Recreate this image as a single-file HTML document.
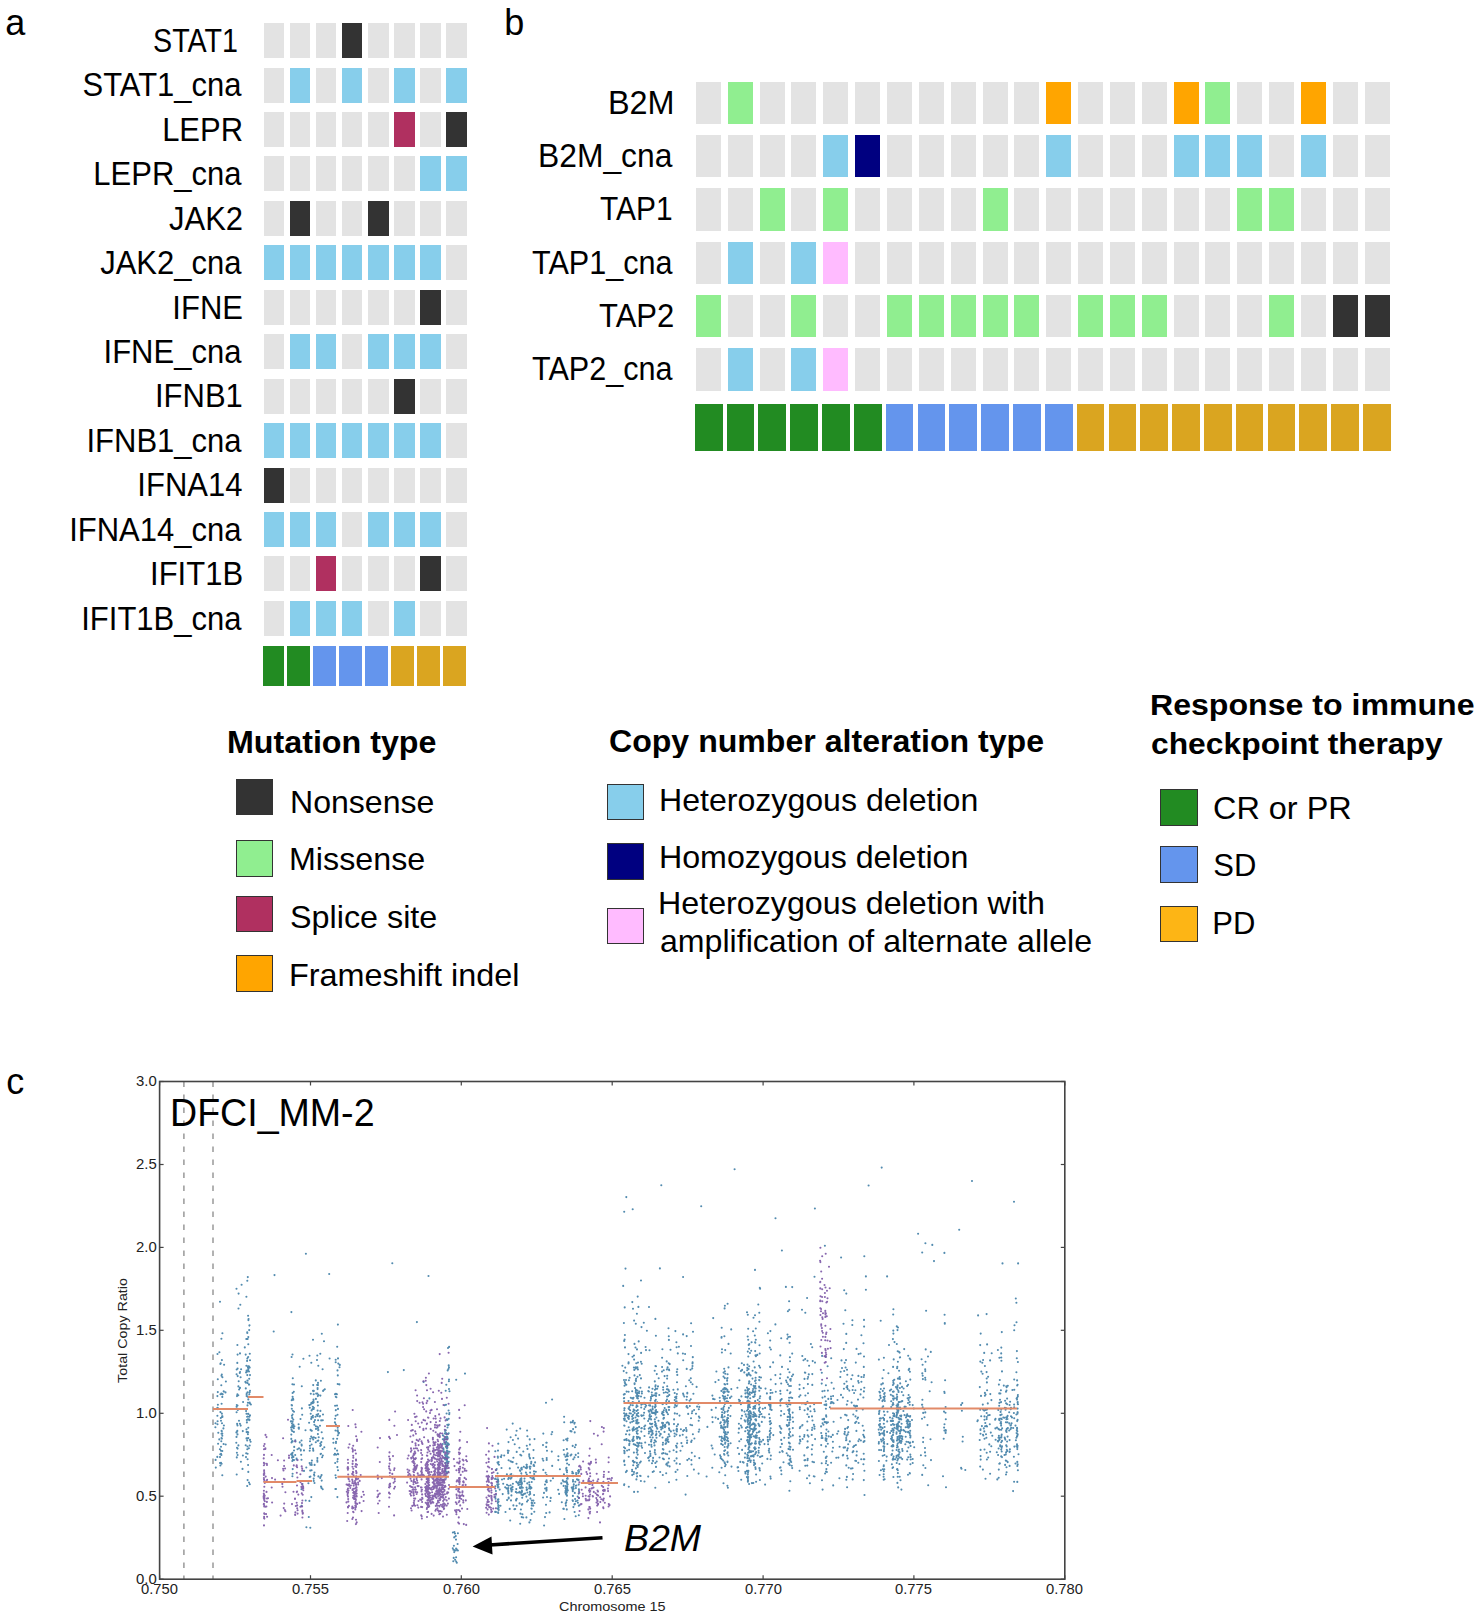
<!DOCTYPE html>
<html><head><meta charset="utf-8"><style>
html,body{margin:0;padding:0;background:#fff;width:1481px;height:1614px;overflow:hidden}
#root{position:relative;width:1481px;height:1614px;background:#fff}
#root div{position:absolute}
#root span{position:absolute;white-space:pre;line-height:1;font-family:'Liberation Sans', sans-serif;transform-origin:0 0}
</style></head><body><div id="root">
<div style="left:263.7px;top:23.0px;width:20.6px;height:35.0px;background:#e3e3e3;"></div>
<div style="left:289.8px;top:23.0px;width:20.6px;height:35.0px;background:#e3e3e3;"></div>
<div style="left:315.8px;top:23.0px;width:20.6px;height:35.0px;background:#e3e3e3;"></div>
<div style="left:341.9px;top:23.0px;width:20.6px;height:35.0px;background:#333333;"></div>
<div style="left:368.0px;top:23.0px;width:20.6px;height:35.0px;background:#e3e3e3;"></div>
<div style="left:394.0px;top:23.0px;width:20.6px;height:35.0px;background:#e3e3e3;"></div>
<div style="left:420.1px;top:23.0px;width:20.6px;height:35.0px;background:#e3e3e3;"></div>
<div style="left:446.2px;top:23.0px;width:20.6px;height:35.0px;background:#e3e3e3;"></div>
<div style="left:263.7px;top:67.5px;width:20.6px;height:35.0px;background:#e3e3e3;"></div>
<div style="left:289.8px;top:67.5px;width:20.6px;height:35.0px;background:#87ceeb;"></div>
<div style="left:315.8px;top:67.5px;width:20.6px;height:35.0px;background:#e3e3e3;"></div>
<div style="left:341.9px;top:67.5px;width:20.6px;height:35.0px;background:#87ceeb;"></div>
<div style="left:368.0px;top:67.5px;width:20.6px;height:35.0px;background:#e3e3e3;"></div>
<div style="left:394.0px;top:67.5px;width:20.6px;height:35.0px;background:#87ceeb;"></div>
<div style="left:420.1px;top:67.5px;width:20.6px;height:35.0px;background:#e3e3e3;"></div>
<div style="left:446.2px;top:67.5px;width:20.6px;height:35.0px;background:#87ceeb;"></div>
<div style="left:263.7px;top:111.9px;width:20.6px;height:35.0px;background:#e3e3e3;"></div>
<div style="left:289.8px;top:111.9px;width:20.6px;height:35.0px;background:#e3e3e3;"></div>
<div style="left:315.8px;top:111.9px;width:20.6px;height:35.0px;background:#e3e3e3;"></div>
<div style="left:341.9px;top:111.9px;width:20.6px;height:35.0px;background:#e3e3e3;"></div>
<div style="left:368.0px;top:111.9px;width:20.6px;height:35.0px;background:#e3e3e3;"></div>
<div style="left:394.0px;top:111.9px;width:20.6px;height:35.0px;background:#b03060;"></div>
<div style="left:420.1px;top:111.9px;width:20.6px;height:35.0px;background:#e3e3e3;"></div>
<div style="left:446.2px;top:111.9px;width:20.6px;height:35.0px;background:#333333;"></div>
<div style="left:263.7px;top:156.4px;width:20.6px;height:35.0px;background:#e3e3e3;"></div>
<div style="left:289.8px;top:156.4px;width:20.6px;height:35.0px;background:#e3e3e3;"></div>
<div style="left:315.8px;top:156.4px;width:20.6px;height:35.0px;background:#e3e3e3;"></div>
<div style="left:341.9px;top:156.4px;width:20.6px;height:35.0px;background:#e3e3e3;"></div>
<div style="left:368.0px;top:156.4px;width:20.6px;height:35.0px;background:#e3e3e3;"></div>
<div style="left:394.0px;top:156.4px;width:20.6px;height:35.0px;background:#e3e3e3;"></div>
<div style="left:420.1px;top:156.4px;width:20.6px;height:35.0px;background:#87ceeb;"></div>
<div style="left:446.2px;top:156.4px;width:20.6px;height:35.0px;background:#87ceeb;"></div>
<div style="left:263.7px;top:200.8px;width:20.6px;height:35.0px;background:#e3e3e3;"></div>
<div style="left:289.8px;top:200.8px;width:20.6px;height:35.0px;background:#333333;"></div>
<div style="left:315.8px;top:200.8px;width:20.6px;height:35.0px;background:#e3e3e3;"></div>
<div style="left:341.9px;top:200.8px;width:20.6px;height:35.0px;background:#e3e3e3;"></div>
<div style="left:368.0px;top:200.8px;width:20.6px;height:35.0px;background:#333333;"></div>
<div style="left:394.0px;top:200.8px;width:20.6px;height:35.0px;background:#e3e3e3;"></div>
<div style="left:420.1px;top:200.8px;width:20.6px;height:35.0px;background:#e3e3e3;"></div>
<div style="left:446.2px;top:200.8px;width:20.6px;height:35.0px;background:#e3e3e3;"></div>
<div style="left:263.7px;top:245.2px;width:20.6px;height:35.0px;background:#87ceeb;"></div>
<div style="left:289.8px;top:245.2px;width:20.6px;height:35.0px;background:#87ceeb;"></div>
<div style="left:315.8px;top:245.2px;width:20.6px;height:35.0px;background:#87ceeb;"></div>
<div style="left:341.9px;top:245.2px;width:20.6px;height:35.0px;background:#87ceeb;"></div>
<div style="left:368.0px;top:245.2px;width:20.6px;height:35.0px;background:#87ceeb;"></div>
<div style="left:394.0px;top:245.2px;width:20.6px;height:35.0px;background:#87ceeb;"></div>
<div style="left:420.1px;top:245.2px;width:20.6px;height:35.0px;background:#87ceeb;"></div>
<div style="left:446.2px;top:245.2px;width:20.6px;height:35.0px;background:#e3e3e3;"></div>
<div style="left:263.7px;top:289.7px;width:20.6px;height:35.0px;background:#e3e3e3;"></div>
<div style="left:289.8px;top:289.7px;width:20.6px;height:35.0px;background:#e3e3e3;"></div>
<div style="left:315.8px;top:289.7px;width:20.6px;height:35.0px;background:#e3e3e3;"></div>
<div style="left:341.9px;top:289.7px;width:20.6px;height:35.0px;background:#e3e3e3;"></div>
<div style="left:368.0px;top:289.7px;width:20.6px;height:35.0px;background:#e3e3e3;"></div>
<div style="left:394.0px;top:289.7px;width:20.6px;height:35.0px;background:#e3e3e3;"></div>
<div style="left:420.1px;top:289.7px;width:20.6px;height:35.0px;background:#333333;"></div>
<div style="left:446.2px;top:289.7px;width:20.6px;height:35.0px;background:#e3e3e3;"></div>
<div style="left:263.7px;top:334.2px;width:20.6px;height:35.0px;background:#e3e3e3;"></div>
<div style="left:289.8px;top:334.2px;width:20.6px;height:35.0px;background:#87ceeb;"></div>
<div style="left:315.8px;top:334.2px;width:20.6px;height:35.0px;background:#87ceeb;"></div>
<div style="left:341.9px;top:334.2px;width:20.6px;height:35.0px;background:#e3e3e3;"></div>
<div style="left:368.0px;top:334.2px;width:20.6px;height:35.0px;background:#87ceeb;"></div>
<div style="left:394.0px;top:334.2px;width:20.6px;height:35.0px;background:#87ceeb;"></div>
<div style="left:420.1px;top:334.2px;width:20.6px;height:35.0px;background:#87ceeb;"></div>
<div style="left:446.2px;top:334.2px;width:20.6px;height:35.0px;background:#e3e3e3;"></div>
<div style="left:263.7px;top:378.6px;width:20.6px;height:35.0px;background:#e3e3e3;"></div>
<div style="left:289.8px;top:378.6px;width:20.6px;height:35.0px;background:#e3e3e3;"></div>
<div style="left:315.8px;top:378.6px;width:20.6px;height:35.0px;background:#e3e3e3;"></div>
<div style="left:341.9px;top:378.6px;width:20.6px;height:35.0px;background:#e3e3e3;"></div>
<div style="left:368.0px;top:378.6px;width:20.6px;height:35.0px;background:#e3e3e3;"></div>
<div style="left:394.0px;top:378.6px;width:20.6px;height:35.0px;background:#333333;"></div>
<div style="left:420.1px;top:378.6px;width:20.6px;height:35.0px;background:#e3e3e3;"></div>
<div style="left:446.2px;top:378.6px;width:20.6px;height:35.0px;background:#e3e3e3;"></div>
<div style="left:263.7px;top:423.1px;width:20.6px;height:35.0px;background:#87ceeb;"></div>
<div style="left:289.8px;top:423.1px;width:20.6px;height:35.0px;background:#87ceeb;"></div>
<div style="left:315.8px;top:423.1px;width:20.6px;height:35.0px;background:#87ceeb;"></div>
<div style="left:341.9px;top:423.1px;width:20.6px;height:35.0px;background:#87ceeb;"></div>
<div style="left:368.0px;top:423.1px;width:20.6px;height:35.0px;background:#87ceeb;"></div>
<div style="left:394.0px;top:423.1px;width:20.6px;height:35.0px;background:#87ceeb;"></div>
<div style="left:420.1px;top:423.1px;width:20.6px;height:35.0px;background:#87ceeb;"></div>
<div style="left:446.2px;top:423.1px;width:20.6px;height:35.0px;background:#e3e3e3;"></div>
<div style="left:263.7px;top:467.5px;width:20.6px;height:35.0px;background:#333333;"></div>
<div style="left:289.8px;top:467.5px;width:20.6px;height:35.0px;background:#e3e3e3;"></div>
<div style="left:315.8px;top:467.5px;width:20.6px;height:35.0px;background:#e3e3e3;"></div>
<div style="left:341.9px;top:467.5px;width:20.6px;height:35.0px;background:#e3e3e3;"></div>
<div style="left:368.0px;top:467.5px;width:20.6px;height:35.0px;background:#e3e3e3;"></div>
<div style="left:394.0px;top:467.5px;width:20.6px;height:35.0px;background:#e3e3e3;"></div>
<div style="left:420.1px;top:467.5px;width:20.6px;height:35.0px;background:#e3e3e3;"></div>
<div style="left:446.2px;top:467.5px;width:20.6px;height:35.0px;background:#e3e3e3;"></div>
<div style="left:263.7px;top:512.0px;width:20.6px;height:35.0px;background:#87ceeb;"></div>
<div style="left:289.8px;top:512.0px;width:20.6px;height:35.0px;background:#87ceeb;"></div>
<div style="left:315.8px;top:512.0px;width:20.6px;height:35.0px;background:#87ceeb;"></div>
<div style="left:341.9px;top:512.0px;width:20.6px;height:35.0px;background:#e3e3e3;"></div>
<div style="left:368.0px;top:512.0px;width:20.6px;height:35.0px;background:#87ceeb;"></div>
<div style="left:394.0px;top:512.0px;width:20.6px;height:35.0px;background:#87ceeb;"></div>
<div style="left:420.1px;top:512.0px;width:20.6px;height:35.0px;background:#87ceeb;"></div>
<div style="left:446.2px;top:512.0px;width:20.6px;height:35.0px;background:#e3e3e3;"></div>
<div style="left:263.7px;top:556.4px;width:20.6px;height:35.0px;background:#e3e3e3;"></div>
<div style="left:289.8px;top:556.4px;width:20.6px;height:35.0px;background:#e3e3e3;"></div>
<div style="left:315.8px;top:556.4px;width:20.6px;height:35.0px;background:#b03060;"></div>
<div style="left:341.9px;top:556.4px;width:20.6px;height:35.0px;background:#e3e3e3;"></div>
<div style="left:368.0px;top:556.4px;width:20.6px;height:35.0px;background:#e3e3e3;"></div>
<div style="left:394.0px;top:556.4px;width:20.6px;height:35.0px;background:#e3e3e3;"></div>
<div style="left:420.1px;top:556.4px;width:20.6px;height:35.0px;background:#333333;"></div>
<div style="left:446.2px;top:556.4px;width:20.6px;height:35.0px;background:#e3e3e3;"></div>
<div style="left:263.7px;top:600.9px;width:20.6px;height:35.0px;background:#e3e3e3;"></div>
<div style="left:289.8px;top:600.9px;width:20.6px;height:35.0px;background:#87ceeb;"></div>
<div style="left:315.8px;top:600.9px;width:20.6px;height:35.0px;background:#87ceeb;"></div>
<div style="left:341.9px;top:600.9px;width:20.6px;height:35.0px;background:#87ceeb;"></div>
<div style="left:368.0px;top:600.9px;width:20.6px;height:35.0px;background:#e3e3e3;"></div>
<div style="left:394.0px;top:600.9px;width:20.6px;height:35.0px;background:#87ceeb;"></div>
<div style="left:420.1px;top:600.9px;width:20.6px;height:35.0px;background:#e3e3e3;"></div>
<div style="left:446.2px;top:600.9px;width:20.6px;height:35.0px;background:#e3e3e3;"></div>
<div style="left:263.2px;top:645.9px;width:20.7px;height:40.4px;background:#228b22;"></div>
<div style="left:286.8px;top:645.9px;width:23.0px;height:40.4px;background:#228b22;"></div>
<div style="left:312.9px;top:645.9px;width:22.8px;height:40.4px;background:#6495ed;"></div>
<div style="left:338.8px;top:645.9px;width:23.0px;height:40.4px;background:#6495ed;"></div>
<div style="left:364.9px;top:645.9px;width:23.0px;height:40.4px;background:#6495ed;"></div>
<div style="left:390.9px;top:645.9px;width:22.9px;height:40.4px;background:#daa520;"></div>
<div style="left:417.0px;top:645.9px;width:22.8px;height:40.4px;background:#daa520;"></div>
<div style="left:442.9px;top:645.9px;width:23.0px;height:40.4px;background:#daa520;"></div>
<div style="left:695.9px;top:81.6px;width:25.0px;height:42.4px;background:#e3e3e3;"></div>
<div style="left:727.7px;top:81.6px;width:25.0px;height:42.4px;background:#90ee90;"></div>
<div style="left:759.6px;top:81.6px;width:25.0px;height:42.4px;background:#e3e3e3;"></div>
<div style="left:791.4px;top:81.6px;width:25.0px;height:42.4px;background:#e3e3e3;"></div>
<div style="left:823.3px;top:81.6px;width:25.0px;height:42.4px;background:#e3e3e3;"></div>
<div style="left:855.1px;top:81.6px;width:25.0px;height:42.4px;background:#e3e3e3;"></div>
<div style="left:886.9px;top:81.6px;width:25.0px;height:42.4px;background:#e3e3e3;"></div>
<div style="left:918.8px;top:81.6px;width:25.0px;height:42.4px;background:#e3e3e3;"></div>
<div style="left:950.6px;top:81.6px;width:25.0px;height:42.4px;background:#e3e3e3;"></div>
<div style="left:982.5px;top:81.6px;width:25.0px;height:42.4px;background:#e3e3e3;"></div>
<div style="left:1014.3px;top:81.6px;width:25.0px;height:42.4px;background:#e3e3e3;"></div>
<div style="left:1046.1px;top:81.6px;width:25.0px;height:42.4px;background:#ffa500;"></div>
<div style="left:1078.0px;top:81.6px;width:25.0px;height:42.4px;background:#e3e3e3;"></div>
<div style="left:1109.8px;top:81.6px;width:25.0px;height:42.4px;background:#e3e3e3;"></div>
<div style="left:1141.7px;top:81.6px;width:25.0px;height:42.4px;background:#e3e3e3;"></div>
<div style="left:1173.5px;top:81.6px;width:25.0px;height:42.4px;background:#ffa500;"></div>
<div style="left:1205.3px;top:81.6px;width:25.0px;height:42.4px;background:#90ee90;"></div>
<div style="left:1237.2px;top:81.6px;width:25.0px;height:42.4px;background:#e3e3e3;"></div>
<div style="left:1269.0px;top:81.6px;width:25.0px;height:42.4px;background:#e3e3e3;"></div>
<div style="left:1300.9px;top:81.6px;width:25.0px;height:42.4px;background:#ffa500;"></div>
<div style="left:1332.7px;top:81.6px;width:25.0px;height:42.4px;background:#e3e3e3;"></div>
<div style="left:1364.5px;top:81.6px;width:25.0px;height:42.4px;background:#e3e3e3;"></div>
<div style="left:695.9px;top:134.9px;width:25.0px;height:42.4px;background:#e3e3e3;"></div>
<div style="left:727.7px;top:134.9px;width:25.0px;height:42.4px;background:#e3e3e3;"></div>
<div style="left:759.6px;top:134.9px;width:25.0px;height:42.4px;background:#e3e3e3;"></div>
<div style="left:791.4px;top:134.9px;width:25.0px;height:42.4px;background:#e3e3e3;"></div>
<div style="left:823.3px;top:134.9px;width:25.0px;height:42.4px;background:#87ceeb;"></div>
<div style="left:855.1px;top:134.9px;width:25.0px;height:42.4px;background:#000080;"></div>
<div style="left:886.9px;top:134.9px;width:25.0px;height:42.4px;background:#e3e3e3;"></div>
<div style="left:918.8px;top:134.9px;width:25.0px;height:42.4px;background:#e3e3e3;"></div>
<div style="left:950.6px;top:134.9px;width:25.0px;height:42.4px;background:#e3e3e3;"></div>
<div style="left:982.5px;top:134.9px;width:25.0px;height:42.4px;background:#e3e3e3;"></div>
<div style="left:1014.3px;top:134.9px;width:25.0px;height:42.4px;background:#e3e3e3;"></div>
<div style="left:1046.1px;top:134.9px;width:25.0px;height:42.4px;background:#87ceeb;"></div>
<div style="left:1078.0px;top:134.9px;width:25.0px;height:42.4px;background:#e3e3e3;"></div>
<div style="left:1109.8px;top:134.9px;width:25.0px;height:42.4px;background:#e3e3e3;"></div>
<div style="left:1141.7px;top:134.9px;width:25.0px;height:42.4px;background:#e3e3e3;"></div>
<div style="left:1173.5px;top:134.9px;width:25.0px;height:42.4px;background:#87ceeb;"></div>
<div style="left:1205.3px;top:134.9px;width:25.0px;height:42.4px;background:#87ceeb;"></div>
<div style="left:1237.2px;top:134.9px;width:25.0px;height:42.4px;background:#87ceeb;"></div>
<div style="left:1269.0px;top:134.9px;width:25.0px;height:42.4px;background:#e3e3e3;"></div>
<div style="left:1300.9px;top:134.9px;width:25.0px;height:42.4px;background:#87ceeb;"></div>
<div style="left:1332.7px;top:134.9px;width:25.0px;height:42.4px;background:#e3e3e3;"></div>
<div style="left:1364.5px;top:134.9px;width:25.0px;height:42.4px;background:#e3e3e3;"></div>
<div style="left:695.9px;top:188.3px;width:25.0px;height:42.4px;background:#e3e3e3;"></div>
<div style="left:727.7px;top:188.3px;width:25.0px;height:42.4px;background:#e3e3e3;"></div>
<div style="left:759.6px;top:188.3px;width:25.0px;height:42.4px;background:#90ee90;"></div>
<div style="left:791.4px;top:188.3px;width:25.0px;height:42.4px;background:#e3e3e3;"></div>
<div style="left:823.3px;top:188.3px;width:25.0px;height:42.4px;background:#90ee90;"></div>
<div style="left:855.1px;top:188.3px;width:25.0px;height:42.4px;background:#e3e3e3;"></div>
<div style="left:886.9px;top:188.3px;width:25.0px;height:42.4px;background:#e3e3e3;"></div>
<div style="left:918.8px;top:188.3px;width:25.0px;height:42.4px;background:#e3e3e3;"></div>
<div style="left:950.6px;top:188.3px;width:25.0px;height:42.4px;background:#e3e3e3;"></div>
<div style="left:982.5px;top:188.3px;width:25.0px;height:42.4px;background:#90ee90;"></div>
<div style="left:1014.3px;top:188.3px;width:25.0px;height:42.4px;background:#e3e3e3;"></div>
<div style="left:1046.1px;top:188.3px;width:25.0px;height:42.4px;background:#e3e3e3;"></div>
<div style="left:1078.0px;top:188.3px;width:25.0px;height:42.4px;background:#e3e3e3;"></div>
<div style="left:1109.8px;top:188.3px;width:25.0px;height:42.4px;background:#e3e3e3;"></div>
<div style="left:1141.7px;top:188.3px;width:25.0px;height:42.4px;background:#e3e3e3;"></div>
<div style="left:1173.5px;top:188.3px;width:25.0px;height:42.4px;background:#e3e3e3;"></div>
<div style="left:1205.3px;top:188.3px;width:25.0px;height:42.4px;background:#e3e3e3;"></div>
<div style="left:1237.2px;top:188.3px;width:25.0px;height:42.4px;background:#90ee90;"></div>
<div style="left:1269.0px;top:188.3px;width:25.0px;height:42.4px;background:#90ee90;"></div>
<div style="left:1300.9px;top:188.3px;width:25.0px;height:42.4px;background:#e3e3e3;"></div>
<div style="left:1332.7px;top:188.3px;width:25.0px;height:42.4px;background:#e3e3e3;"></div>
<div style="left:1364.5px;top:188.3px;width:25.0px;height:42.4px;background:#e3e3e3;"></div>
<div style="left:695.9px;top:241.6px;width:25.0px;height:42.4px;background:#e3e3e3;"></div>
<div style="left:727.7px;top:241.6px;width:25.0px;height:42.4px;background:#87ceeb;"></div>
<div style="left:759.6px;top:241.6px;width:25.0px;height:42.4px;background:#e3e3e3;"></div>
<div style="left:791.4px;top:241.6px;width:25.0px;height:42.4px;background:#87ceeb;"></div>
<div style="left:823.3px;top:241.6px;width:25.0px;height:42.4px;background:#ffbbff;"></div>
<div style="left:855.1px;top:241.6px;width:25.0px;height:42.4px;background:#e3e3e3;"></div>
<div style="left:886.9px;top:241.6px;width:25.0px;height:42.4px;background:#e3e3e3;"></div>
<div style="left:918.8px;top:241.6px;width:25.0px;height:42.4px;background:#e3e3e3;"></div>
<div style="left:950.6px;top:241.6px;width:25.0px;height:42.4px;background:#e3e3e3;"></div>
<div style="left:982.5px;top:241.6px;width:25.0px;height:42.4px;background:#e3e3e3;"></div>
<div style="left:1014.3px;top:241.6px;width:25.0px;height:42.4px;background:#e3e3e3;"></div>
<div style="left:1046.1px;top:241.6px;width:25.0px;height:42.4px;background:#e3e3e3;"></div>
<div style="left:1078.0px;top:241.6px;width:25.0px;height:42.4px;background:#e3e3e3;"></div>
<div style="left:1109.8px;top:241.6px;width:25.0px;height:42.4px;background:#e3e3e3;"></div>
<div style="left:1141.7px;top:241.6px;width:25.0px;height:42.4px;background:#e3e3e3;"></div>
<div style="left:1173.5px;top:241.6px;width:25.0px;height:42.4px;background:#e3e3e3;"></div>
<div style="left:1205.3px;top:241.6px;width:25.0px;height:42.4px;background:#e3e3e3;"></div>
<div style="left:1237.2px;top:241.6px;width:25.0px;height:42.4px;background:#e3e3e3;"></div>
<div style="left:1269.0px;top:241.6px;width:25.0px;height:42.4px;background:#e3e3e3;"></div>
<div style="left:1300.9px;top:241.6px;width:25.0px;height:42.4px;background:#e3e3e3;"></div>
<div style="left:1332.7px;top:241.6px;width:25.0px;height:42.4px;background:#e3e3e3;"></div>
<div style="left:1364.5px;top:241.6px;width:25.0px;height:42.4px;background:#e3e3e3;"></div>
<div style="left:695.9px;top:294.9px;width:25.0px;height:42.4px;background:#90ee90;"></div>
<div style="left:727.7px;top:294.9px;width:25.0px;height:42.4px;background:#e3e3e3;"></div>
<div style="left:759.6px;top:294.9px;width:25.0px;height:42.4px;background:#e3e3e3;"></div>
<div style="left:791.4px;top:294.9px;width:25.0px;height:42.4px;background:#90ee90;"></div>
<div style="left:823.3px;top:294.9px;width:25.0px;height:42.4px;background:#e3e3e3;"></div>
<div style="left:855.1px;top:294.9px;width:25.0px;height:42.4px;background:#e3e3e3;"></div>
<div style="left:886.9px;top:294.9px;width:25.0px;height:42.4px;background:#90ee90;"></div>
<div style="left:918.8px;top:294.9px;width:25.0px;height:42.4px;background:#90ee90;"></div>
<div style="left:950.6px;top:294.9px;width:25.0px;height:42.4px;background:#90ee90;"></div>
<div style="left:982.5px;top:294.9px;width:25.0px;height:42.4px;background:#90ee90;"></div>
<div style="left:1014.3px;top:294.9px;width:25.0px;height:42.4px;background:#90ee90;"></div>
<div style="left:1046.1px;top:294.9px;width:25.0px;height:42.4px;background:#e3e3e3;"></div>
<div style="left:1078.0px;top:294.9px;width:25.0px;height:42.4px;background:#90ee90;"></div>
<div style="left:1109.8px;top:294.9px;width:25.0px;height:42.4px;background:#90ee90;"></div>
<div style="left:1141.7px;top:294.9px;width:25.0px;height:42.4px;background:#90ee90;"></div>
<div style="left:1173.5px;top:294.9px;width:25.0px;height:42.4px;background:#e3e3e3;"></div>
<div style="left:1205.3px;top:294.9px;width:25.0px;height:42.4px;background:#e3e3e3;"></div>
<div style="left:1237.2px;top:294.9px;width:25.0px;height:42.4px;background:#e3e3e3;"></div>
<div style="left:1269.0px;top:294.9px;width:25.0px;height:42.4px;background:#90ee90;"></div>
<div style="left:1300.9px;top:294.9px;width:25.0px;height:42.4px;background:#e3e3e3;"></div>
<div style="left:1332.7px;top:294.9px;width:25.0px;height:42.4px;background:#333333;"></div>
<div style="left:1364.5px;top:294.9px;width:25.0px;height:42.4px;background:#333333;"></div>
<div style="left:695.9px;top:348.2px;width:25.0px;height:42.4px;background:#e3e3e3;"></div>
<div style="left:727.7px;top:348.2px;width:25.0px;height:42.4px;background:#87ceeb;"></div>
<div style="left:759.6px;top:348.2px;width:25.0px;height:42.4px;background:#e3e3e3;"></div>
<div style="left:791.4px;top:348.2px;width:25.0px;height:42.4px;background:#87ceeb;"></div>
<div style="left:823.3px;top:348.2px;width:25.0px;height:42.4px;background:#ffbbff;"></div>
<div style="left:855.1px;top:348.2px;width:25.0px;height:42.4px;background:#e3e3e3;"></div>
<div style="left:886.9px;top:348.2px;width:25.0px;height:42.4px;background:#e3e3e3;"></div>
<div style="left:918.8px;top:348.2px;width:25.0px;height:42.4px;background:#e3e3e3;"></div>
<div style="left:950.6px;top:348.2px;width:25.0px;height:42.4px;background:#e3e3e3;"></div>
<div style="left:982.5px;top:348.2px;width:25.0px;height:42.4px;background:#e3e3e3;"></div>
<div style="left:1014.3px;top:348.2px;width:25.0px;height:42.4px;background:#e3e3e3;"></div>
<div style="left:1046.1px;top:348.2px;width:25.0px;height:42.4px;background:#e3e3e3;"></div>
<div style="left:1078.0px;top:348.2px;width:25.0px;height:42.4px;background:#e3e3e3;"></div>
<div style="left:1109.8px;top:348.2px;width:25.0px;height:42.4px;background:#e3e3e3;"></div>
<div style="left:1141.7px;top:348.2px;width:25.0px;height:42.4px;background:#e3e3e3;"></div>
<div style="left:1173.5px;top:348.2px;width:25.0px;height:42.4px;background:#e3e3e3;"></div>
<div style="left:1205.3px;top:348.2px;width:25.0px;height:42.4px;background:#e3e3e3;"></div>
<div style="left:1237.2px;top:348.2px;width:25.0px;height:42.4px;background:#e3e3e3;"></div>
<div style="left:1269.0px;top:348.2px;width:25.0px;height:42.4px;background:#e3e3e3;"></div>
<div style="left:1300.9px;top:348.2px;width:25.0px;height:42.4px;background:#e3e3e3;"></div>
<div style="left:1332.7px;top:348.2px;width:25.0px;height:42.4px;background:#e3e3e3;"></div>
<div style="left:1364.5px;top:348.2px;width:25.0px;height:42.4px;background:#e3e3e3;"></div>
<div style="left:694.8px;top:404.0px;width:27.8px;height:47.0px;background:#228b22;"></div>
<div style="left:726.6px;top:404.0px;width:27.8px;height:47.0px;background:#228b22;"></div>
<div style="left:758.4px;top:404.0px;width:27.8px;height:47.0px;background:#228b22;"></div>
<div style="left:790.3px;top:404.0px;width:27.8px;height:47.0px;background:#228b22;"></div>
<div style="left:822.1px;top:404.0px;width:27.8px;height:47.0px;background:#228b22;"></div>
<div style="left:853.9px;top:404.0px;width:27.8px;height:47.0px;background:#228b22;"></div>
<div style="left:885.7px;top:404.0px;width:27.8px;height:47.0px;background:#6495ed;"></div>
<div style="left:917.5px;top:404.0px;width:27.8px;height:47.0px;background:#6495ed;"></div>
<div style="left:949.4px;top:404.0px;width:27.8px;height:47.0px;background:#6495ed;"></div>
<div style="left:981.2px;top:404.0px;width:27.8px;height:47.0px;background:#6495ed;"></div>
<div style="left:1013.0px;top:404.0px;width:27.8px;height:47.0px;background:#6495ed;"></div>
<div style="left:1044.8px;top:404.0px;width:27.8px;height:47.0px;background:#6495ed;"></div>
<div style="left:1076.6px;top:404.0px;width:27.8px;height:47.0px;background:#daa520;"></div>
<div style="left:1108.5px;top:404.0px;width:27.8px;height:47.0px;background:#daa520;"></div>
<div style="left:1140.3px;top:404.0px;width:27.8px;height:47.0px;background:#daa520;"></div>
<div style="left:1172.1px;top:404.0px;width:27.8px;height:47.0px;background:#daa520;"></div>
<div style="left:1203.9px;top:404.0px;width:27.8px;height:47.0px;background:#daa520;"></div>
<div style="left:1235.7px;top:404.0px;width:27.8px;height:47.0px;background:#daa520;"></div>
<div style="left:1267.6px;top:404.0px;width:27.8px;height:47.0px;background:#daa520;"></div>
<div style="left:1299.4px;top:404.0px;width:27.8px;height:47.0px;background:#daa520;"></div>
<div style="left:1331.2px;top:404.0px;width:27.8px;height:47.0px;background:#daa520;"></div>
<div style="left:1363.0px;top:404.0px;width:27.8px;height:47.0px;background:#daa520;"></div>
<div style="left:236.2px;top:778.8px;width:37.2px;height:36.6px;background:#333333;box-sizing:border-box;border:1.3px solid #333;"></div>
<div style="left:236.2px;top:840.2px;width:37.2px;height:36.6px;background:#90ee90;box-sizing:border-box;border:1.3px solid #333;"></div>
<div style="left:236.2px;top:895.5px;width:37.2px;height:36.6px;background:#b03060;box-sizing:border-box;border:1.3px solid #333;"></div>
<div style="left:236.2px;top:955.3px;width:37.2px;height:36.6px;background:#ffa500;box-sizing:border-box;border:1.3px solid #333;"></div>
<div style="left:607.4px;top:783.6px;width:36.8px;height:36.4px;background:#87ceeb;box-sizing:border-box;border:1.3px solid #333;"></div>
<div style="left:607.4px;top:843.4px;width:36.8px;height:36.4px;background:#000080;box-sizing:border-box;border:1.3px solid #333;"></div>
<div style="left:607.4px;top:908.0px;width:36.8px;height:36.4px;background:#ffbbff;box-sizing:border-box;border:1.3px solid #333;"></div>
<div style="left:1159.8px;top:789.4px;width:38.6px;height:36.8px;background:#228b22;box-sizing:border-box;border:1.3px solid #333;"></div>
<div style="left:1159.8px;top:846.0px;width:38.6px;height:37.0px;background:#6495ed;box-sizing:border-box;border:1.3px solid #333;"></div>
<div style="left:1160.4px;top:905.6px;width:37.4px;height:36.6px;background:#fdb515;box-sizing:border-box;border:1.3px solid #333;"></div>
<svg width="1481" height="1614" style="position:absolute;left:0;top:0">
<line x1="183.9" y1="1081.5" x2="183.9" y2="1579.2" stroke="#999" stroke-width="1.5" stroke-dasharray="5.5,7.5" stroke-dashoffset="0"/>
<line x1="213.0" y1="1081.5" x2="213.0" y2="1579.2" stroke="#999" stroke-width="1.5" stroke-dasharray="5.5,7.5" stroke-dashoffset="0"/>
<path d="M217.8 1409.2h0M222.3 1433.6h0M222.4 1333.2h0M217.4 1396.1h0M220.0 1457.1h0M221.3 1441.3h0M218.1 1443.8h0M221.6 1403.7h0M222.4 1416.2h0M220.7 1363.4h0M220.0 1463.0h0M221.3 1385.3h0M220.5 1394.2h0M221.9 1438.6h0M221.0 1462.8h0M215.0 1409.1h0M223.9 1425.5h0M217.8 1379.3h0M217.4 1415.8h0M222.3 1435.8h0M221.9 1360.1h0M217.3 1456.9h0M222.3 1396.9h0M215.5 1423.3h0M221.5 1375.8h0M222.4 1417.0h0M222.0 1423.3h0M223.4 1428.4h0M223.6 1444.0h0M221.3 1393.6h0M217.5 1424.2h0M217.4 1407.7h0M218.3 1432.7h0M221.6 1430.9h0M221.0 1453.8h0M217.7 1409.0h0M220.0 1301.8h0M217.9 1404.7h0M222.4 1377.3h0M221.4 1455.0h0M220.4 1412.0h0M221.0 1446.7h0M223.7 1391.4h0M221.6 1463.7h0M217.6 1421.2h0M219.4 1352.2h0M225.9 1381.5h0M215.4 1427.3h0M222.3 1394.3h0M219.9 1449.2h0M220.8 1418.0h0M220.2 1454.2h0M225.7 1444.5h0M222.7 1394.2h0M217.5 1354.0h0M221.0 1450.8h0M221.9 1413.8h0M221.8 1413.5h0M220.4 1363.9h0M215.6 1459.9h0M221.5 1433.8h0M218.2 1408.4h0M222.3 1475.2h0M221.8 1374.5h0M221.4 1338.7h0M222.1 1416.4h0M215.8 1467.6h0M221.5 1438.1h0M220.4 1465.5h0M219.3 1439.4h0M221.8 1431.3h0M222.3 1451.0h0M221.0 1420.8h0M224.1 1364.7h0M217.8 1392.1h0M250.0 1390.7h0M238.4 1445.4h0M245.8 1382.6h0M236.3 1442.8h0M247.9 1419.4h0M237.7 1376.1h0M247.2 1486.0h0M240.1 1372.0h0M248.3 1369.9h0M237.6 1455.0h0M237.3 1430.9h0M237.6 1448.6h0M246.2 1453.2h0M242.8 1431.1h0M240.0 1353.4h0M249.1 1384.6h0M245.8 1388.4h0M246.5 1429.4h0M236.8 1405.0h0M238.4 1386.4h0M237.6 1354.6h0M242.5 1468.9h0M249.7 1402.5h0M241.1 1369.3h0M247.6 1453.7h0M236.6 1406.8h0M237.5 1434.4h0M246.1 1411.1h0M249.0 1371.5h0M248.3 1344.3h0M246.5 1413.8h0M237.0 1447.7h0M248.9 1396.9h0M237.0 1396.1h0M247.9 1402.7h0M246.9 1422.4h0M248.3 1471.9h0M238.5 1308.5h0M245.4 1381.9h0M248.2 1368.9h0M247.1 1360.9h0M244.8 1347.4h0M247.2 1440.5h0M247.3 1375.1h0M249.7 1445.5h0M237.5 1405.5h0M248.9 1448.2h0M239.8 1372.9h0M239.1 1389.5h0M250.6 1441.7h0M249.8 1403.4h0M248.9 1384.6h0M240.6 1377.3h0M236.6 1412.2h0M249.2 1330.1h0M249.4 1325.6h0M247.3 1333.0h0M249.8 1353.7h0M248.3 1413.9h0M249.0 1482.5h0M246.8 1420.0h0M246.6 1394.2h0M236.5 1288.7h0M249.2 1378.8h0M246.1 1372.5h0M248.6 1319.0h0M249.5 1325.2h0M247.6 1338.9h0M247.5 1405.4h0M237.5 1425.5h0M247.8 1277.1h0M248.3 1337.1h0M247.3 1449.2h0M237.8 1410.0h0M245.7 1445.2h0M237.6 1368.6h0M248.0 1367.4h0M239.9 1423.7h0M247.4 1432.1h0M248.2 1432.2h0M250.9 1404.5h0M236.7 1369.5h0M247.5 1383.0h0M247.0 1438.4h0M247.6 1380.8h0M248.3 1366.3h0M246.4 1365.8h0M247.6 1480.1h0M249.1 1366.5h0M237.3 1362.9h0M237.0 1431.7h0M248.4 1320.1h0M236.7 1474.5h0M250.0 1415.4h0M242.9 1455.5h0M237.4 1394.4h0M247.3 1280.7h0M249.7 1392.3h0M249.3 1394.3h0M248.9 1419.2h0M245.7 1354.6h0M243.1 1402.0h0M246.6 1370.5h0M237.1 1423.9h0M250.0 1439.9h0M236.9 1452.8h0M247.0 1371.7h0M246.6 1432.1h0M248.1 1315.8h0M246.7 1393.2h0M250.0 1375.1h0M247.4 1380.5h0M237.0 1408.7h0M249.3 1420.1h0M240.9 1461.8h0M247.2 1332.2h0M247.6 1392.2h0M236.8 1457.4h0M246.4 1296.7h0M247.1 1416.7h0M248.3 1399.4h0M248.2 1357.0h0M247.5 1396.6h0M236.6 1374.2h0M249.5 1419.9h0M248.3 1427.7h0M240.7 1425.6h0M237.4 1345.0h0M236.4 1432.4h0M250.0 1360.3h0M247.8 1416.5h0M238.7 1381.2h0M247.6 1459.3h0M247.5 1446.5h0M246.3 1339.0h0M236.5 1436.9h0M249.3 1416.7h0M240.0 1387.9h0M238.3 1395.2h0M247.9 1434.2h0M246.0 1457.1h0M246.5 1438.4h0M239.0 1420.8h0M247.3 1358.5h0M248.3 1438.1h0M248.1 1465.0h0M249.8 1484.3h0M249.7 1367.6h0M246.6 1396.0h0M246.6 1371.6h0M292.6 1421.8h0M292.0 1405.4h0M292.2 1453.4h0M291.6 1357.0h0M293.4 1424.6h0M297.5 1449.2h0M290.9 1421.4h0M292.6 1441.2h0M291.1 1454.4h0M293.2 1426.3h0M293.9 1431.9h0M292.5 1354.5h0M292.4 1384.2h0M291.6 1405.0h0M293.3 1419.6h0M291.3 1434.6h0M294.0 1450.5h0M293.8 1428.2h0M292.6 1427.3h0M293.1 1460.1h0M298.9 1428.8h0M291.5 1442.5h0M292.8 1426.8h0M292.8 1410.8h0M292.0 1441.4h0M293.1 1398.5h0M299.7 1366.8h0M294.0 1384.5h0M299.8 1442.4h0M291.9 1421.3h0M292.2 1417.9h0M292.3 1461.0h0M292.2 1431.1h0M292.6 1473.8h0M292.6 1393.0h0M301.2 1454.8h0M292.3 1441.0h0M293.8 1391.8h0M298.6 1428.0h0M292.2 1399.3h0M300.8 1450.6h0M292.9 1459.9h0M291.9 1415.7h0M292.4 1476.3h0M292.4 1455.3h0M294.0 1460.1h0M292.2 1427.0h0M295.3 1440.2h0M293.3 1399.7h0M292.2 1425.8h0M292.6 1396.7h0M291.3 1438.9h0M292.6 1414.5h0M292.0 1457.7h0M295.2 1455.0h0M296.6 1459.5h0M291.9 1415.8h0M294.2 1446.9h0M292.2 1427.3h0M294.4 1426.3h0M293.4 1456.9h0M294.0 1411.7h0M291.7 1400.2h0M292.7 1469.1h0M298.6 1424.2h0M298.9 1427.6h0M291.9 1423.5h0M292.8 1378.2h0M293.0 1399.0h0M299.0 1448.2h0M300.5 1419.0h0M292.6 1441.4h0M291.5 1429.7h0M291.8 1408.7h0M292.3 1456.1h0M291.1 1427.6h0M296.6 1458.6h0M295.5 1441.5h0M300.7 1449.5h0M292.6 1452.7h0M301.6 1444.5h0M309.8 1407.7h0M305.5 1430.3h0M310.2 1470.6h0M309.7 1476.9h0M304.0 1470.9h0M309.6 1463.1h0M309.4 1500.9h0M311.6 1470.2h0M301.5 1459.8h0M310.3 1527.7h0M301.7 1445.6h0M301.5 1440.5h0M310.4 1476.6h0M301.9 1408.4h0M303.4 1358.8h0M301.8 1386.3h0M301.5 1505.9h0M308.8 1517.0h0M306.4 1527.2h0M308.4 1483.3h0M302.2 1414.8h0M301.5 1489.2h0M306.3 1467.5h0M309.5 1355.8h0M304.0 1450.4h0M302.5 1484.0h0M310.3 1464.7h0M309.7 1450.8h0M305.7 1500.5h0M310.8 1404.5h0M319.7 1416.4h0M317.6 1416.0h0M316.2 1393.6h0M310.6 1429.9h0M313.0 1339.8h0M309.3 1405.1h0M310.3 1438.8h0M317.8 1396.1h0M320.0 1425.7h0M320.4 1410.9h0M311.3 1403.1h0M318.0 1428.8h0M317.3 1460.2h0M315.5 1416.8h0M314.4 1424.7h0M322.8 1420.2h0M316.6 1414.8h0M313.3 1391.3h0M320.3 1353.7h0M309.9 1445.7h0M313.6 1402.5h0M314.1 1421.9h0M310.0 1441.2h0M324.3 1447.3h0M310.7 1413.8h0M312.6 1409.1h0M312.7 1401.8h0M322.6 1369.3h0M311.6 1410.4h0M313.5 1399.6h0M317.6 1410.6h0M317.4 1458.1h0M311.6 1444.5h0M313.8 1437.3h0M317.4 1393.5h0M315.9 1426.3h0M318.4 1395.0h0M323.6 1390.2h0M311.9 1460.6h0M313.0 1448.5h0M310.8 1393.8h0M317.3 1355.5h0M324.0 1341.2h0M313.7 1409.0h0M318.1 1420.2h0M311.8 1430.7h0M318.4 1430.0h0M318.0 1382.9h0M317.2 1384.9h0M317.9 1405.5h0M317.7 1402.1h0M317.4 1461.7h0M311.5 1430.7h0M313.2 1450.1h0M317.5 1426.8h0M311.2 1418.9h0M312.9 1417.4h0M317.6 1388.0h0M311.5 1417.0h0M313.2 1385.1h0M312.8 1403.3h0M315.9 1398.9h0M323.1 1390.9h0M322.1 1457.3h0M321.2 1420.4h0M313.5 1401.0h0M309.1 1422.8h0M318.4 1476.4h0M318.2 1414.0h0M318.7 1437.3h0M313.0 1390.8h0M311.2 1436.5h0M317.0 1360.0h0M317.6 1389.1h0M320.9 1380.8h0M313.7 1394.2h0M315.0 1420.1h0M311.3 1362.8h0M315.6 1438.0h0M322.8 1438.4h0M315.8 1380.4h0M320.3 1443.5h0M313.8 1390.9h0M318.0 1385.1h0M312.9 1415.7h0M316.0 1428.9h0M320.0 1416.1h0M324.8 1389.2h0M317.9 1434.1h0M317.5 1440.7h0M315.8 1442.2h0M318.2 1430.3h0M318.3 1365.8h0M322.6 1449.0h0M323.0 1414.5h0M318.2 1427.5h0M312.8 1406.7h0M320.4 1395.6h0M310.0 1448.2h0M318.3 1440.6h0M320.8 1476.6h0M322.7 1489.3h0M313.9 1407.9h0M313.3 1450.8h0M314.3 1475.6h0M311.7 1464.9h0M321.0 1486.6h0M313.7 1480.9h0M314.0 1474.6h0M321.7 1480.6h0M321.0 1453.8h0M320.3 1445.9h0M321.7 1432.2h0M314.6 1464.9h0M314.5 1483.0h0M312.3 1437.8h0M313.7 1478.6h0M313.2 1439.5h0M321.5 1488.0h0M311.3 1497.1h0M314.5 1472.5h0M320.2 1477.9h0M311.5 1463.0h0M321.4 1487.4h0M321.1 1445.0h0M321.6 1475.0h0M321.4 1442.1h0M322.8 1455.6h0M320.6 1454.1h0M337.2 1346.7h0M338.0 1358.4h0M335.1 1418.7h0M335.2 1394.1h0M335.9 1477.7h0M336.1 1454.8h0M335.9 1424.5h0M337.7 1459.1h0M335.0 1422.8h0M338.2 1454.3h0M337.5 1431.1h0M336.0 1489.0h0M337.8 1435.3h0M335.4 1489.0h0M335.9 1410.0h0M333.3 1438.8h0M338.6 1433.5h0M337.5 1370.4h0M334.9 1453.7h0M335.0 1394.2h0M337.7 1427.7h0M336.4 1397.2h0M335.9 1393.9h0M337.7 1384.0h0M334.2 1454.8h0M338.0 1470.2h0M335.3 1426.1h0M335.7 1415.8h0M335.2 1463.0h0M334.9 1422.4h0M338.3 1363.6h0M336.9 1394.3h0M335.8 1410.3h0M337.8 1375.4h0M337.8 1430.3h0M335.8 1396.7h0M335.1 1405.8h0M339.5 1367.2h0M338.0 1431.7h0M337.4 1461.6h0M337.5 1414.8h0M337.8 1453.7h0M337.9 1324.6h0M335.5 1475.3h0M337.1 1438.8h0M337.1 1450.6h0M335.5 1430.5h0M339.0 1432.9h0M336.0 1441.7h0M335.7 1359.7h0M338.0 1408.9h0M336.0 1443.0h0M335.0 1448.6h0M339.4 1384.4h0M339.8 1364.9h0M333.4 1442.7h0M337.4 1497.1h0M337.4 1467.1h0M337.0 1405.6h0M335.7 1362.2h0M445.3 1439.2h0M447.0 1459.9h0M447.5 1465.7h0M443.9 1451.2h0M446.8 1439.2h0M445.7 1439.3h0M447.0 1452.9h0M445.4 1471.4h0M447.4 1443.5h0M447.7 1438.3h0M443.3 1448.3h0M447.3 1443.4h0M445.7 1476.1h0M447.1 1461.5h0M445.8 1439.4h0M447.1 1438.9h0M446.9 1473.4h0M447.3 1419.9h0M447.1 1456.8h0M446.2 1442.1h0M446.8 1419.2h0M444.1 1439.0h0M447.4 1462.9h0M446.1 1447.3h0M443.2 1479.7h0M445.5 1470.7h0M447.3 1424.7h0M447.5 1438.9h0M446.5 1434.0h0M447.5 1438.6h0M443.3 1448.3h0M446.9 1436.6h0M443.7 1452.3h0M448.7 1461.8h0M446.6 1465.5h0M446.5 1439.1h0M446.6 1456.5h0M445.8 1430.4h0M446.8 1448.3h0M447.5 1457.7h0M446.6 1447.1h0M445.6 1437.1h0M447.3 1437.3h0M444.1 1458.2h0M445.9 1455.6h0M447.5 1461.9h0M447.0 1459.1h0M447.2 1451.6h0M447.3 1454.7h0M447.4 1447.8h0M446.7 1452.9h0M446.1 1438.5h0M445.9 1446.8h0M447.1 1447.2h0M446.3 1459.1h0M447.4 1445.5h0M447.6 1451.0h0M446.8 1419.8h0M444.4 1442.3h0M448.9 1444.4h0M446.8 1450.8h0M442.8 1444.0h0M446.6 1476.6h0M447.2 1436.7h0M446.6 1445.1h0M447.0 1454.7h0M447.3 1437.0h0M445.1 1459.4h0M447.1 1448.5h0M445.9 1457.0h0M447.4 1456.7h0M446.6 1445.5h0M446.6 1462.6h0M447.4 1437.7h0M447.5 1427.5h0M446.0 1471.7h0M446.2 1441.8h0M445.5 1442.6h0M446.5 1456.7h0M448.2 1471.9h0M447.3 1454.6h0M447.4 1462.0h0M445.5 1457.1h0M448.2 1433.9h0M446.9 1433.8h0M446.7 1466.9h0M447.7 1452.0h0M445.2 1444.3h0M445.9 1465.4h0M446.5 1455.7h0M443.2 1435.8h0M445.9 1433.0h0M442.8 1439.3h0M443.5 1449.3h0M445.3 1476.5h0M445.1 1455.1h0M447.6 1445.6h0M445.7 1469.1h0M444.9 1433.4h0M447.4 1463.6h0M445.1 1431.0h0M445.3 1462.7h0M446.1 1477.8h0M446.6 1413.5h0M446.8 1451.1h0M446.1 1433.9h0M446.8 1459.9h0M448.7 1457.5h0M447.9 1443.4h0M446.9 1446.7h0M448.6 1368.8h0M449.0 1389.0h0M449.2 1414.2h0M448.7 1433.2h0M449.0 1379.5h0M448.0 1348.0h0M445.7 1390.8h0M448.9 1381.3h0M448.7 1418.7h0M447.7 1370.4h0M444.6 1405.2h0M446.3 1384.8h0M442.9 1435.2h0M448.6 1410.5h0M449.5 1451.8h0M449.4 1413.1h0M448.7 1444.7h0M448.2 1425.3h0M447.3 1445.1h0M449.0 1367.2h0M449.1 1346.9h0M448.7 1365.4h0M449.5 1391.3h0M448.8 1424.5h0M446.0 1404.7h0M520.8 1488.2h0M520.4 1492.8h0M506.9 1474.4h0M519.4 1482.3h0M509.7 1508.9h0M495.3 1451.3h0M497.8 1503.0h0M497.8 1485.7h0M512.7 1423.6h0M497.5 1462.5h0M497.5 1508.6h0M516.5 1463.8h0M511.5 1477.8h0M520.2 1471.0h0M526.8 1464.7h0M512.5 1489.5h0M495.3 1486.4h0M508.7 1497.5h0M530.1 1472.6h0M534.2 1474.0h0M497.7 1481.6h0M527.0 1467.7h0M521.8 1504.7h0M530.1 1468.7h0M498.0 1487.6h0M530.4 1488.7h0M516.6 1482.2h0M526.9 1466.5h0M534.5 1439.1h0M496.0 1512.0h0M498.6 1501.5h0M516.2 1499.6h0M510.5 1461.2h0M507.1 1500.1h0M511.3 1474.0h0M519.4 1447.8h0M508.8 1478.0h0M521.2 1468.2h0M529.1 1488.2h0M532.2 1503.1h0M508.3 1488.1h0M518.8 1482.2h0M510.6 1437.2h0M495.4 1497.0h0M529.9 1466.8h0M529.2 1455.9h0M495.9 1494.7h0M498.1 1501.3h0M496.7 1469.0h0M516.1 1500.5h0M534.2 1466.0h0M527.5 1448.9h0M526.8 1445.7h0M519.6 1503.4h0M498.6 1462.1h0M522.8 1487.7h0M527.9 1500.2h0M521.8 1475.9h0M521.3 1455.5h0M521.4 1480.0h0M504.2 1455.5h0M516.7 1451.9h0M498.1 1502.2h0M526.5 1487.6h0M498.4 1499.2h0M530.1 1487.1h0M530.5 1466.7h0M514.7 1444.2h0M502.7 1494.1h0M513.4 1457.7h0M521.7 1494.2h0M526.8 1474.5h0M531.1 1463.6h0M497.8 1486.0h0M533.6 1465.7h0M511.0 1500.4h0M511.4 1495.4h0M497.8 1476.6h0M530.2 1493.9h0M498.2 1443.7h0M534.2 1479.2h0M510.9 1488.8h0M517.9 1483.3h0M495.2 1511.9h0M508.6 1460.2h0M512.9 1440.0h0M510.0 1476.3h0M503.2 1483.7h0M521.1 1482.0h0M519.4 1484.5h0M520.2 1523.7h0M502.0 1479.5h0M531.7 1502.9h0M519.6 1491.7h0M495.1 1478.9h0M498.6 1505.8h0M515.8 1491.9h0M516.9 1492.8h0M497.6 1482.0h0M508.6 1485.7h0M531.7 1482.0h0M511.1 1489.8h0M533.7 1464.9h0M525.2 1493.5h0M507.8 1450.8h0M508.4 1493.4h0M511.4 1487.7h0M531.3 1487.5h0M527.4 1475.9h0M505.2 1487.3h0M523.2 1517.5h0M535.8 1471.8h0M518.5 1484.9h0M531.7 1508.7h0M511.4 1461.7h0M531.8 1505.4h0M529.6 1466.9h0M529.4 1484.7h0M496.3 1470.0h0M505.5 1512.0h0M510.2 1520.5h0M526.5 1464.8h0M510.5 1474.6h0M522.8 1495.2h0M526.7 1489.9h0M527.3 1483.4h0M526.7 1468.2h0M518.1 1467.6h0M521.5 1475.5h0M498.3 1481.4h0M521.9 1491.9h0M520.3 1454.7h0M497.8 1463.0h0M512.6 1486.9h0M523.3 1451.5h0M515.8 1435.2h0M508.7 1476.6h0M531.4 1508.5h0M516.6 1505.7h0M506.6 1488.4h0M533.5 1450.1h0M520.4 1513.6h0M535.1 1462.4h0M521.5 1482.8h0M521.5 1486.9h0M519.5 1492.5h0M530.5 1477.4h0M529.6 1486.2h0M511.3 1476.2h0M504.1 1478.8h0M525.9 1472.6h0M498.0 1479.2h0M534.0 1471.4h0M527.1 1430.5h0M498.4 1506.3h0M521.6 1484.6h0M508.0 1452.9h0M524.5 1481.2h0M531.8 1500.5h0M527.4 1492.5h0M521.8 1469.4h0M519.9 1470.2h0M498.4 1502.1h0M501.5 1455.3h0M498.0 1450.6h0M498.2 1505.1h0M519.9 1487.9h0M526.4 1517.4h0M516.0 1476.0h0M531.3 1461.9h0M516.3 1489.1h0M522.2 1497.8h0M507.0 1484.8h0M498.3 1443.7h0M529.4 1522.4h0M507.9 1450.5h0M525.6 1467.7h0M520.9 1509.5h0M529.7 1457.7h0M506.7 1429.6h0M501.5 1468.0h0M499.0 1464.7h0M517.3 1476.1h0M530.4 1498.6h0M521.2 1484.6h0M523.8 1466.7h0M526.4 1496.6h0M524.5 1478.6h0M533.4 1500.6h0M522.3 1504.0h0M508.6 1450.7h0M521.5 1494.8h0M508.3 1492.1h0M512.7 1462.1h0M513.7 1475.7h0M521.9 1490.6h0M534.5 1503.0h0M497.9 1499.6h0M498.2 1481.0h0M500.5 1505.8h0M518.8 1492.5h0M527.2 1489.5h0M510.9 1478.5h0M498.7 1507.7h0M495.5 1498.7h0M516.8 1498.7h0M498.2 1513.0h0M498.6 1484.2h0M533.6 1477.8h0M533.4 1458.0h0M498.0 1482.2h0M529.2 1482.3h0M499.7 1489.6h0M529.2 1454.2h0M516.1 1500.1h0M497.0 1479.2h0M529.7 1439.4h0M508.2 1490.5h0M524.0 1494.0h0M508.2 1491.4h0M530.0 1458.4h0M521.9 1483.7h0M510.6 1485.3h0M529.3 1494.7h0M520.2 1428.6h0M498.6 1476.2h0M522.4 1514.2h0M521.7 1467.8h0M501.1 1457.1h0M526.5 1468.3h0M497.8 1456.5h0M530.5 1520.1h0M497.3 1484.4h0M509.8 1468.4h0M518.1 1438.6h0M513.4 1505.4h0M508.2 1479.0h0M519.9 1487.3h0M498.7 1509.9h0M516.6 1430.7h0M534.3 1511.7h0M520.6 1478.7h0M507.9 1489.0h0M498.0 1480.1h0M530.1 1493.1h0M495.9 1491.0h0M527.0 1501.6h0M520.0 1480.2h0M497.9 1457.7h0M515.2 1509.0h0M521.4 1481.5h0M532.3 1478.6h0M511.6 1491.4h0M516.3 1481.8h0M521.3 1473.2h0M500.7 1456.8h0M521.4 1478.2h0M512.9 1483.7h0M527.4 1436.2h0M531.4 1487.9h0M521.8 1491.4h0M530.2 1486.9h0M514.4 1509.3h0M534.1 1495.0h0M508.7 1498.4h0M497.6 1485.3h0M498.1 1512.4h0M498.2 1463.7h0M498.5 1487.0h0M497.6 1473.3h0M533.3 1505.6h0M521.7 1517.1h0M529.9 1491.8h0M510.7 1478.7h0M520.3 1482.4h0M531.6 1513.9h0M522.0 1491.4h0M529.9 1444.6h0M508.5 1442.1h0M522.0 1483.0h0M549.6 1512.4h0M543.0 1445.1h0M546.5 1482.1h0M546.6 1480.3h0M545.0 1517.1h0M546.4 1490.8h0M543.3 1469.9h0M550.7 1497.9h0M550.3 1501.0h0M542.6 1458.7h0M547.0 1497.0h0M546.2 1446.9h0M546.0 1504.7h0M545.0 1484.6h0M552.2 1432.0h0M546.0 1402.7h0M552.1 1399.5h0M551.5 1434.3h0M552.2 1465.9h0M547.0 1450.8h0M546.3 1442.8h0M546.7 1459.9h0M545.8 1481.5h0M546.9 1482.1h0M546.6 1475.1h0M543.3 1433.6h0M545.1 1488.5h0M546.7 1442.8h0M543.1 1497.5h0M545.6 1472.8h0M543.3 1460.6h0M546.7 1458.1h0M546.6 1487.9h0M546.6 1489.9h0M544.0 1492.9h0M546.2 1513.0h0M550.7 1480.8h0M553.0 1478.3h0M551.8 1451.6h0M544.1 1525.5h0M567.0 1495.8h0M564.2 1422.2h0M567.3 1440.5h0M567.5 1456.0h0M575.8 1501.2h0M573.2 1476.2h0M567.2 1489.0h0M577.7 1496.6h0M565.4 1492.5h0M566.5 1460.3h0M558.4 1456.3h0M572.9 1495.9h0M573.6 1488.8h0M576.3 1474.9h0M561.8 1502.3h0M578.6 1479.9h0M570.8 1422.4h0M567.2 1486.6h0M578.9 1489.4h0M575.8 1444.9h0M574.4 1423.6h0M567.7 1478.7h0M565.5 1456.8h0M575.3 1481.7h0M572.8 1491.2h0M558.3 1460.1h0M574.4 1504.4h0M567.8 1490.4h0M578.3 1480.2h0M573.1 1429.1h0M566.2 1491.3h0M563.6 1485.9h0M564.9 1481.7h0M566.8 1509.4h0M578.8 1515.3h0M574.8 1492.9h0M566.8 1482.4h0M573.0 1481.6h0M559.9 1469.3h0M565.9 1493.9h0M579.1 1471.5h0M567.1 1463.5h0M565.9 1505.6h0M566.6 1494.9h0M566.5 1467.8h0M566.2 1460.0h0M577.0 1479.4h0M578.8 1505.8h0M573.4 1486.5h0M574.5 1457.4h0M572.6 1500.3h0M572.7 1445.9h0M566.9 1492.6h0M567.0 1478.8h0M563.6 1440.3h0M565.7 1503.4h0M566.7 1470.8h0M567.1 1482.8h0M572.4 1488.8h0M572.9 1500.9h0M562.8 1480.2h0M574.9 1447.2h0M563.3 1508.8h0M566.6 1491.4h0M575.7 1427.1h0M578.7 1484.6h0M576.1 1473.1h0M578.7 1493.6h0M575.7 1454.9h0M567.6 1438.5h0M565.8 1486.1h0M566.2 1468.5h0M566.8 1500.2h0M578.3 1473.3h0M566.0 1489.8h0M567.0 1472.3h0M564.1 1416.7h0M567.6 1453.2h0M565.4 1488.1h0M575.7 1516.2h0M579.0 1491.1h0M566.3 1468.3h0M563.8 1508.9h0M572.5 1422.2h0M564.4 1519.0h0M566.9 1449.1h0M575.9 1488.1h0M574.7 1432.4h0M577.5 1500.5h0M571.4 1454.6h0M567.6 1476.7h0M578.1 1470.8h0M566.1 1439.2h0M566.6 1481.0h0M566.3 1482.0h0M567.5 1475.8h0M574.9 1504.0h0M574.8 1504.1h0M566.9 1495.7h0M573.0 1420.9h0M563.7 1450.0h0M575.1 1499.0h0M569.0 1464.7h0M566.6 1475.9h0M573.3 1459.3h0M579.2 1505.4h0M570.4 1431.1h0M566.6 1456.0h0M567.5 1453.7h0M571.5 1431.4h0M574.6 1512.0h0M572.3 1473.2h0M573.2 1488.1h0M566.4 1470.1h0M567.0 1470.4h0M567.0 1483.8h0M578.8 1470.0h0M570.6 1455.4h0M564.3 1454.6h0M572.3 1471.8h0M575.8 1485.8h0M566.8 1455.1h0M561.3 1483.4h0M578.9 1472.1h0M576.4 1485.5h0M566.9 1482.5h0M558.2 1489.7h0M578.2 1453.2h0M573.2 1473.3h0M573.4 1507.1h0M564.0 1475.1h0M573.0 1480.1h0M559.1 1493.9h0M572.7 1490.1h0M567.1 1487.9h0M577.9 1502.7h0M567.7 1484.4h0M574.7 1422.8h0M576.5 1475.9h0M579.0 1498.0h0M565.5 1491.0h0M563.3 1481.5h0M578.5 1471.9h0M566.2 1502.3h0M567.2 1459.5h0M567.8 1456.3h0M578.2 1457.0h0M573.8 1484.4h0M563.9 1474.4h0M571.7 1487.6h0M457.9 1533.3h0M455.1 1559.7h0M454.4 1537.3h0M452.8 1548.3h0M455.8 1536.0h0M454.2 1552.1h0M453.7 1557.9h0M457.6 1544.0h0M453.4 1549.7h0M454.4 1532.0h0M456.7 1549.3h0M454.2 1537.4h0M456.8 1562.8h0M454.7 1550.2h0M453.9 1545.7h0M456.0 1539.6h0M456.1 1548.6h0M452.9 1532.5h0M455.0 1533.6h0M455.8 1550.5h0M456.2 1561.6h0M456.1 1557.3h0M453.3 1561.2h0M457.9 1550.5h0M625.1 1448.2h0M624.6 1339.6h0M626.2 1413.8h0M623.2 1285.9h0M624.8 1382.3h0M626.5 1372.8h0M626.3 1197.1h0M626.6 1391.6h0M626.0 1380.0h0M624.5 1420.3h0M624.5 1452.3h0M626.4 1414.1h0M625.9 1439.6h0M625.5 1268.6h0M622.4 1365.7h0M626.5 1440.2h0M624.2 1211.7h0M625.0 1347.4h0M626.5 1421.2h0M625.3 1384.0h0M624.9 1335.0h0M624.2 1425.5h0M624.5 1385.8h0M626.0 1434.2h0M626.5 1415.5h0M639.8 1375.1h0M628.5 1417.3h0M633.0 1441.1h0M669.7 1364.1h0M656.1 1425.3h0M637.7 1466.9h0M666.2 1439.1h0M655.7 1425.9h0M624.5 1451.5h0M634.2 1429.7h0M655.5 1414.4h0M669.0 1401.2h0M668.3 1462.4h0M639.0 1401.3h0M632.3 1419.0h0M669.6 1451.5h0M667.2 1375.8h0M636.7 1405.3h0M639.0 1393.3h0M662.7 1404.1h0M628.7 1427.2h0M636.9 1313.8h0M666.9 1369.4h0M624.1 1401.2h0M637.6 1423.4h0M656.0 1466.9h0M624.2 1460.6h0M629.2 1445.1h0M624.2 1340.9h0M655.5 1414.6h0M637.4 1419.9h0M637.4 1367.4h0M633.2 1418.2h0M636.3 1407.1h0M635.8 1368.5h0M657.2 1402.3h0M662.1 1453.6h0M636.9 1462.9h0M660.2 1472.0h0M668.7 1363.3h0M657.2 1388.7h0M628.5 1401.0h0M649.0 1419.1h0M624.4 1408.2h0M665.1 1424.9h0M632.5 1429.3h0M637.6 1433.7h0M633.7 1444.2h0M667.2 1386.2h0M628.8 1486.8h0M624.7 1307.4h0M636.9 1421.3h0M624.5 1425.8h0M641.0 1378.4h0M668.5 1328.2h0M651.1 1419.4h0M632.1 1416.5h0M636.1 1378.7h0M634.5 1343.9h0M629.4 1443.8h0M634.7 1462.1h0M667.0 1412.5h0M629.1 1449.8h0M651.2 1424.3h0M651.2 1441.6h0M625.9 1472.1h0M645.3 1407.0h0M632.1 1469.8h0M639.9 1438.8h0M654.1 1395.2h0M650.5 1400.5h0M653.0 1461.1h0M656.7 1461.5h0M655.7 1406.2h0M662.4 1349.3h0M637.7 1430.5h0M624.4 1439.9h0M638.7 1396.1h0M669.2 1391.3h0M659.7 1435.8h0M632.3 1440.0h0M648.2 1457.9h0M641.5 1446.0h0M641.7 1363.7h0M638.4 1443.9h0M652.1 1413.0h0M637.1 1403.1h0M637.0 1349.4h0M624.3 1484.2h0M645.6 1347.0h0M666.3 1464.4h0M628.6 1408.4h0M656.1 1410.0h0M636.8 1452.5h0M638.4 1306.9h0M632.8 1430.6h0M637.7 1454.6h0M668.0 1414.2h0M641.3 1431.6h0M636.3 1457.6h0M634.1 1359.6h0M637.3 1415.7h0M667.1 1396.5h0M628.6 1440.3h0M649.0 1307.0h0M636.3 1423.2h0M633.7 1427.2h0M626.5 1439.0h0M634.1 1491.9h0M634.6 1383.3h0M642.1 1447.8h0M655.6 1410.6h0M634.0 1472.1h0M645.2 1442.5h0M663.4 1449.6h0M668.9 1339.9h0M633.1 1398.6h0M640.1 1475.7h0M624.1 1413.2h0M636.9 1433.3h0M638.5 1416.3h0M668.8 1336.3h0M637.0 1428.3h0M662.0 1371.6h0M635.8 1380.2h0M644.1 1402.8h0M632.7 1402.1h0M656.0 1412.7h0M655.9 1441.6h0M635.8 1367.4h0M633.8 1440.2h0M662.7 1426.4h0M663.7 1370.3h0M655.6 1425.0h0M623.9 1418.8h0M662.8 1449.0h0M655.8 1399.7h0M627.9 1417.8h0M635.8 1392.6h0M644.4 1428.9h0M632.1 1471.2h0M658.5 1420.8h0M644.6 1429.0h0M628.8 1418.9h0M662.1 1357.8h0M652.5 1433.3h0M633.6 1436.7h0M637.9 1398.4h0M663.0 1425.5h0M650.4 1453.9h0M634.7 1413.0h0M664.5 1431.9h0M641.8 1404.2h0M651.3 1444.9h0M636.3 1363.2h0M635.5 1347.5h0M636.2 1420.5h0M628.5 1363.5h0M629.6 1413.2h0M644.3 1418.5h0M629.6 1377.8h0M656.4 1426.0h0M641.0 1396.5h0M648.1 1421.0h0M641.3 1415.3h0M649.1 1460.6h0M630.3 1422.6h0M639.8 1462.8h0M633.8 1462.5h0M628.5 1354.1h0M643.5 1415.3h0M634.5 1375.4h0M655.7 1395.3h0M624.0 1380.0h0M644.3 1426.5h0M634.0 1355.5h0M637.2 1442.8h0M637.5 1376.7h0M629.4 1434.6h0M636.7 1428.8h0M632.2 1421.8h0M630.8 1397.8h0M638.7 1445.8h0M656.2 1434.6h0M632.6 1440.9h0M636.7 1415.3h0M669.2 1370.2h0M651.0 1441.5h0M668.9 1423.2h0M662.8 1475.0h0M634.5 1429.5h0M668.0 1396.2h0M637.6 1450.3h0M665.5 1453.6h0M652.8 1460.5h0M653.8 1471.3h0M669.3 1394.9h0M637.9 1446.7h0M630.1 1410.2h0M635.8 1391.1h0M643.3 1403.6h0M664.6 1376.1h0M636.9 1396.5h0M643.8 1322.8h0M664.3 1425.6h0M633.1 1460.8h0M632.5 1356.8h0M633.9 1452.6h0M633.2 1414.7h0M623.9 1323.0h0M665.7 1440.2h0M632.2 1475.1h0M625.0 1383.2h0M633.7 1409.5h0M633.2 1465.2h0M632.3 1302.1h0M627.2 1430.9h0M639.5 1442.9h0M669.6 1466.4h0M626.8 1470.9h0M641.9 1391.5h0M655.4 1318.9h0M636.9 1393.9h0M636.6 1411.0h0M637.1 1397.9h0M635.9 1468.4h0M667.4 1440.9h0M663.1 1423.0h0M655.9 1335.8h0M638.5 1402.9h0M641.7 1415.9h0M654.1 1442.7h0M624.7 1382.0h0M635.8 1323.8h0M638.2 1413.1h0M645.0 1403.9h0M639.3 1391.5h0M638.6 1422.7h0M639.8 1437.8h0M637.3 1438.2h0M633.4 1402.4h0M651.0 1398.8h0M662.0 1413.6h0M656.0 1366.3h0M638.4 1464.7h0M636.3 1396.0h0M637.4 1390.5h0M655.3 1463.0h0M663.4 1453.1h0M666.2 1443.0h0M637.2 1473.0h0M665.6 1443.9h0M632.2 1391.2h0M668.5 1407.1h0M664.7 1408.1h0M634.0 1429.3h0M633.1 1428.5h0M633.5 1397.7h0M666.7 1422.8h0M662.1 1367.0h0M633.7 1474.0h0M656.4 1434.1h0M670.9 1431.4h0M634.3 1369.9h0M629.5 1430.2h0M666.2 1401.1h0M650.1 1405.2h0M667.2 1454.2h0M637.7 1296.6h0M637.8 1491.8h0M641.3 1428.2h0M640.4 1387.7h0M655.4 1404.8h0M652.7 1472.0h0M629.4 1406.9h0M640.8 1461.6h0M624.9 1419.1h0M656.8 1374.1h0M667.7 1422.2h0M655.4 1386.6h0M651.0 1431.0h0M635.5 1417.5h0M633.6 1421.0h0M656.0 1396.1h0M634.6 1383.5h0M628.9 1380.2h0M645.0 1453.0h0M628.7 1456.8h0M649.0 1444.8h0M624.3 1410.3h0M629.8 1441.4h0M655.8 1435.3h0M637.9 1369.4h0M638.7 1341.4h0M665.4 1426.2h0M669.0 1458.5h0M669.5 1436.2h0M663.2 1389.7h0M644.5 1481.5h0M640.9 1361.8h0M637.3 1428.0h0M628.5 1415.7h0M641.5 1327.1h0M668.5 1441.9h0M633.9 1367.5h0M628.6 1362.4h0M632.8 1405.2h0M639.1 1426.9h0M656.3 1431.6h0M644.1 1412.8h0M637.4 1395.9h0M649.6 1418.2h0M649.5 1350.2h0M668.8 1434.2h0M655.1 1424.9h0M623.8 1394.6h0M649.1 1411.8h0M667.6 1392.8h0M666.3 1411.0h0M666.9 1389.3h0M662.4 1412.1h0M669.3 1407.0h0M629.5 1441.3h0M637.2 1438.6h0M644.3 1409.0h0M636.0 1381.1h0M636.4 1422.0h0M666.2 1473.2h0M637.2 1395.8h0M646.2 1405.6h0M663.7 1418.0h0M635.1 1388.1h0M624.1 1485.1h0M667.6 1367.4h0M634.5 1410.4h0M649.5 1415.9h0M669.0 1409.9h0M641.0 1280.5h0M640.6 1476.0h0M666.2 1409.9h0M666.7 1361.4h0M633.2 1438.3h0M624.2 1398.1h0M636.6 1473.4h0M633.0 1308.8h0M636.4 1479.4h0M635.3 1444.9h0M657.4 1412.0h0M667.6 1465.6h0M637.3 1450.7h0M637.2 1433.6h0M641.9 1393.5h0M649.8 1414.2h0M634.6 1384.1h0M662.0 1403.4h0M667.1 1378.6h0M644.5 1397.7h0M628.6 1391.8h0M641.5 1443.4h0M650.2 1437.3h0M624.6 1408.3h0M632.7 1415.2h0M636.6 1431.5h0M646.0 1350.1h0M636.8 1449.0h0M669.0 1482.3h0M636.0 1389.9h0M637.8 1392.7h0M624.7 1416.6h0M627.1 1450.5h0M637.0 1414.0h0M634.1 1320.6h0M655.3 1487.8h0M667.8 1389.3h0M637.8 1410.0h0M637.5 1406.2h0M670.5 1349.7h0M632.4 1398.4h0M624.8 1394.1h0M641.2 1407.5h0M637.1 1476.4h0M636.9 1436.9h0M641.1 1352.9h0M636.0 1428.7h0M623.9 1398.3h0M636.8 1445.7h0M641.3 1404.8h0M625.2 1367.6h0M640.9 1481.0h0M632.8 1461.0h0M669.4 1429.9h0M652.4 1395.9h0M630.9 1413.5h0M644.5 1436.0h0M636.9 1458.2h0M637.2 1395.0h0M667.0 1399.5h0M637.1 1465.6h0M624.5 1453.2h0M655.8 1388.8h0M641.8 1428.1h0M623.7 1371.1h0M669.0 1424.5h0M629.0 1416.6h0M669.0 1428.4h0M666.7 1402.8h0M624.7 1464.9h0M656.4 1417.5h0M655.1 1406.5h0M646.9 1330.8h0M626.3 1384.8h0M638.4 1437.0h0M668.5 1389.9h0M645.2 1425.5h0M633.9 1444.2h0M633.1 1411.5h0M656.4 1393.4h0M624.9 1415.4h0M624.1 1461.5h0M665.7 1440.6h0M665.0 1427.2h0M656.5 1437.7h0M638.0 1362.5h0M669.0 1369.6h0M624.0 1447.2h0M624.2 1450.8h0M662.1 1422.9h0M628.9 1408.9h0M630.7 1405.0h0M655.5 1366.0h0M652.7 1409.4h0M649.1 1387.4h0M651.9 1395.0h0M653.2 1412.9h0M654.9 1450.1h0M651.4 1435.1h0M663.8 1415.1h0M655.1 1400.9h0M648.8 1428.6h0M654.8 1419.4h0M662.7 1428.1h0M650.5 1456.0h0M654.5 1445.4h0M652.5 1388.7h0M652.2 1423.7h0M666.8 1463.6h0M657.3 1428.7h0M654.8 1381.4h0M663.2 1415.0h0M651.0 1410.6h0M660.6 1427.2h0M654.9 1389.8h0M663.4 1418.8h0M648.9 1457.2h0M654.8 1440.4h0M652.4 1431.0h0M654.7 1412.9h0M648.9 1391.5h0M654.8 1452.4h0M662.8 1423.7h0M661.6 1427.4h0M654.7 1370.8h0M658.7 1378.3h0M648.2 1476.6h0M663.9 1459.3h0M658.0 1386.4h0M650.0 1451.4h0M652.3 1432.5h0M662.5 1437.5h0M652.2 1426.8h0M666.4 1404.0h0M651.1 1429.3h0M650.1 1405.8h0M663.8 1410.2h0M651.6 1446.8h0M649.0 1431.6h0M660.8 1434.0h0M648.8 1433.5h0M652.6 1406.6h0M650.0 1423.6h0M667.9 1439.2h0M652.0 1463.2h0M652.8 1433.8h0M655.5 1393.3h0M667.7 1437.3h0M663.0 1442.7h0M659.3 1395.0h0M650.3 1431.5h0M650.4 1409.7h0M666.3 1411.4h0M662.9 1404.0h0M664.0 1417.9h0M663.0 1412.6h0M665.8 1392.2h0M653.1 1457.9h0M655.1 1413.5h0M662.8 1444.7h0M663.8 1392.8h0M663.4 1412.3h0M663.1 1387.3h0M650.3 1455.8h0M661.2 1429.5h0M655.6 1385.3h0M664.2 1382.7h0M648.3 1391.1h0M655.9 1411.4h0M655.1 1422.0h0M649.1 1405.2h0M651.1 1416.2h0M659.0 1431.8h0M656.8 1427.8h0M655.7 1423.6h0M648.6 1410.7h0M659.5 1457.5h0M655.0 1407.4h0M651.5 1411.8h0M652.4 1430.7h0M651.4 1439.9h0M654.2 1412.8h0M650.3 1416.8h0M655.5 1454.2h0M650.9 1397.1h0M650.1 1427.6h0M662.9 1458.6h0M655.0 1422.0h0M651.6 1434.9h0M660.3 1433.9h0M652.7 1437.5h0M651.8 1392.5h0M652.6 1408.6h0M698.7 1420.7h0M676.4 1479.8h0M683.1 1334.4h0M676.7 1447.4h0M675.6 1471.9h0M686.5 1430.1h0M687.3 1476.0h0M687.3 1460.1h0M676.9 1394.0h0M698.7 1431.8h0M674.0 1424.1h0M687.3 1393.5h0M686.0 1428.0h0M691.9 1413.2h0M690.8 1382.2h0M691.0 1418.3h0M692.1 1425.3h0M698.3 1403.6h0M692.5 1363.4h0M676.6 1347.2h0M675.6 1402.1h0M678.0 1424.4h0M683.4 1394.8h0M684.2 1430.0h0M693.0 1331.7h0M675.1 1405.0h0M676.8 1426.3h0M677.2 1443.5h0M674.7 1400.0h0M674.1 1419.4h0M678.9 1346.7h0M679.5 1415.6h0M691.7 1440.5h0M687.6 1407.8h0M696.0 1413.8h0M677.5 1469.8h0M676.3 1398.4h0M691.1 1323.3h0M686.5 1406.7h0M683.2 1360.2h0M681.4 1443.1h0M673.6 1430.5h0M694.1 1410.0h0M683.2 1430.9h0M686.8 1406.0h0M692.8 1357.1h0M682.9 1353.5h0M689.8 1406.1h0M689.6 1400.7h0M677.1 1413.7h0M676.4 1342.2h0M686.5 1406.8h0M686.6 1399.8h0M697.1 1406.6h0M698.9 1416.5h0M674.5 1460.7h0M684.3 1396.5h0M677.8 1353.4h0M676.8 1371.9h0M690.5 1369.7h0M677.3 1374.9h0M676.1 1445.7h0M692.2 1368.4h0M692.8 1357.2h0M676.5 1463.4h0M682.7 1434.8h0M688.2 1413.9h0M677.8 1389.4h0M694.4 1438.5h0M677.0 1429.8h0M673.4 1389.7h0M693.4 1393.7h0M677.3 1369.3h0M675.4 1331.1h0M683.1 1277.0h0M692.5 1384.3h0M690.8 1378.3h0M673.6 1450.2h0M683.1 1393.5h0M689.3 1380.2h0M691.0 1346.0h0M677.0 1382.3h0M674.8 1413.4h0M679.9 1435.6h0M696.6 1386.9h0M692.3 1411.3h0M676.8 1428.7h0M676.4 1430.1h0M679.9 1464.0h0M687.3 1392.9h0M676.4 1446.2h0M674.6 1433.5h0M674.5 1407.3h0M691.2 1441.9h0M686.9 1396.7h0M674.7 1393.0h0M687.2 1440.5h0M676.9 1431.4h0M692.6 1362.4h0M682.4 1446.3h0M680.5 1450.8h0M676.4 1434.6h0M692.5 1366.0h0M674.6 1436.3h0M676.4 1396.5h0M686.7 1368.9h0M676.6 1401.4h0M689.0 1458.7h0M692.9 1434.3h0M676.8 1405.8h0M691.5 1464.5h0M690.8 1399.3h0M687.0 1442.9h0M685.1 1354.0h0M677.7 1403.4h0M686.7 1336.1h0M675.1 1397.3h0M680.9 1429.3h0M685.6 1494.6h0M685.9 1386.2h0M693.9 1469.6h0M690.4 1424.7h0M691.8 1452.7h0M676.4 1406.2h0M686.4 1437.4h0M676.5 1451.9h0M676.6 1458.4h0M694.8 1456.2h0M691.4 1460.1h0M686.5 1431.1h0M699.3 1458.1h0M716.4 1371.5h0M718.6 1380.0h0M718.1 1418.9h0M711.6 1445.6h0M712.6 1422.1h0M699.3 1406.9h0M712.4 1395.6h0M698.6 1473.6h0M715.9 1407.8h0M699.5 1417.8h0M713.1 1398.9h0M714.6 1399.2h0M706.6 1476.5h0M699.3 1429.6h0M714.7 1454.5h0M715.6 1417.6h0M712.4 1417.2h0M711.6 1409.9h0M712.3 1467.7h0M707.4 1426.9h0M712.5 1448.4h0M713.2 1318.1h0M698.8 1409.3h0M715.4 1382.1h0M727.5 1462.1h0M723.6 1372.6h0M726.9 1401.3h0M722.0 1415.9h0M724.4 1388.1h0M721.9 1352.5h0M724.1 1406.3h0M720.8 1422.3h0M731.3 1389.1h0M730.0 1397.9h0M724.3 1450.9h0M724.5 1391.5h0M722.1 1412.3h0M721.0 1427.7h0M721.9 1459.2h0M721.6 1436.7h0M723.5 1438.6h0M724.8 1432.5h0M726.4 1388.8h0M723.5 1483.2h0M727.3 1453.4h0M724.7 1437.8h0M724.4 1422.8h0M724.5 1399.7h0M725.0 1466.2h0M720.1 1455.4h0M725.1 1398.6h0M722.1 1441.2h0M724.6 1462.4h0M726.7 1434.3h0M721.7 1327.7h0M723.5 1376.6h0M727.6 1423.7h0M727.5 1422.5h0M727.8 1440.7h0M719.3 1472.3h0M723.6 1396.7h0M727.0 1398.2h0M721.5 1408.9h0M727.8 1438.4h0M725.1 1443.8h0M724.4 1440.1h0M724.4 1420.8h0M724.3 1413.0h0M724.2 1430.1h0M727.8 1423.5h0M727.3 1383.9h0M725.1 1396.5h0M723.9 1432.1h0M724.4 1420.2h0M731.4 1396.5h0M721.3 1440.3h0M725.7 1432.3h0M721.6 1467.7h0M727.3 1418.1h0M725.3 1427.1h0M727.6 1425.1h0M730.7 1353.5h0M728.7 1391.9h0M724.0 1454.0h0M728.3 1455.5h0M723.4 1407.9h0M723.2 1460.6h0M721.8 1427.8h0M724.9 1439.0h0M727.4 1411.6h0M723.8 1393.1h0M725.2 1475.3h0M720.7 1458.2h0M724.7 1436.1h0M721.5 1337.7h0M731.5 1466.6h0M728.5 1367.4h0M728.2 1441.3h0M725.1 1384.5h0M723.2 1428.4h0M727.6 1446.9h0M727.6 1374.2h0M727.7 1452.2h0M724.9 1371.3h0M721.9 1438.1h0M727.0 1419.7h0M728.3 1444.1h0M726.3 1421.2h0M724.8 1411.9h0M720.8 1456.9h0M724.9 1404.0h0M724.4 1336.2h0M727.5 1447.7h0M724.9 1305.8h0M728.1 1410.5h0M724.7 1432.9h0M721.4 1390.9h0M728.0 1432.4h0M724.6 1416.5h0M728.1 1401.8h0M730.4 1416.1h0M721.3 1426.3h0M725.1 1433.9h0M725.1 1433.8h0M727.4 1485.8h0M727.8 1395.3h0M724.9 1388.9h0M725.3 1432.1h0M725.3 1373.7h0M730.6 1443.3h0M731.2 1329.4h0M724.2 1368.8h0M727.4 1389.9h0M719.6 1436.8h0M727.9 1487.8h0M722.1 1414.7h0M727.5 1378.0h0M728.5 1343.9h0M724.0 1424.7h0M724.6 1308.4h0M727.5 1461.5h0M727.3 1391.4h0M728.4 1445.5h0M725.7 1464.8h0M725.1 1450.2h0M723.6 1398.3h0M721.6 1337.0h0M719.7 1397.7h0M727.1 1378.7h0M719.9 1401.0h0M726.7 1437.0h0M727.3 1446.7h0M724.3 1427.3h0M725.3 1442.5h0M730.7 1405.7h0M723.1 1389.4h0M724.8 1422.7h0M724.6 1447.0h0M727.8 1402.7h0M721.2 1443.9h0M727.7 1417.8h0M727.1 1380.8h0M721.3 1425.8h0M724.5 1384.0h0M725.3 1388.2h0M725.1 1402.2h0M724.8 1463.2h0M723.4 1409.9h0M725.2 1350.1h0M724.8 1378.1h0M721.6 1417.3h0M721.1 1425.9h0M722.7 1417.6h0M728.1 1421.3h0M728.1 1418.3h0M722.0 1349.3h0M722.8 1444.9h0M727.4 1427.0h0M728.9 1407.9h0M727.0 1440.5h0M723.1 1427.3h0M725.2 1389.3h0M723.1 1420.1h0M723.3 1392.3h0M724.8 1391.9h0M724.4 1454.8h0M727.4 1426.6h0M725.1 1427.4h0M725.2 1439.6h0M722.8 1395.8h0M728.0 1415.1h0M727.6 1303.7h0M720.2 1423.2h0M724.9 1436.1h0M748.8 1417.2h0M753.1 1396.8h0M753.0 1456.0h0M740.9 1425.5h0M762.8 1408.8h0M749.8 1416.8h0M761.0 1377.5h0M748.1 1418.3h0M748.3 1414.4h0M753.3 1423.2h0M761.8 1421.9h0M738.8 1368.2h0M751.2 1350.8h0M742.9 1402.8h0M748.1 1374.2h0M744.5 1411.6h0M755.7 1380.2h0M739.1 1402.7h0M748.9 1374.5h0M758.6 1450.8h0M753.6 1406.7h0M744.0 1364.9h0M753.7 1429.6h0M759.1 1425.4h0M741.8 1363.3h0M739.3 1441.2h0M750.6 1375.5h0M755.0 1449.5h0M759.4 1380.2h0M747.3 1392.3h0M754.0 1465.1h0M742.8 1402.8h0M745.3 1421.4h0M737.8 1448.0h0M751.9 1483.1h0M748.1 1396.2h0M755.2 1436.6h0M759.2 1442.2h0M759.9 1444.6h0M737.4 1387.7h0M747.8 1471.5h0M751.0 1402.7h0M741.8 1427.4h0M755.3 1419.5h0M748.0 1452.8h0M747.5 1440.8h0M753.0 1416.7h0M749.1 1484.0h0M744.7 1420.3h0M753.7 1412.4h0M747.4 1471.2h0M753.1 1414.7h0M748.7 1432.8h0M755.9 1428.8h0M747.0 1387.6h0M753.3 1483.0h0M752.8 1391.0h0M762.5 1416.7h0M755.1 1443.8h0M747.0 1312.3h0M746.9 1477.1h0M747.1 1375.6h0M750.7 1416.0h0M755.2 1401.0h0M748.6 1369.1h0M755.8 1339.8h0M754.8 1335.5h0M747.5 1390.3h0M752.5 1378.6h0M755.6 1441.2h0M755.9 1435.4h0M749.7 1431.1h0M755.5 1355.4h0M739.4 1401.7h0M759.1 1365.8h0M755.5 1372.4h0M747.9 1409.3h0M749.4 1460.0h0M747.7 1419.8h0M759.1 1408.9h0M748.1 1455.6h0M748.7 1344.9h0M747.3 1458.3h0M755.6 1425.4h0M744.9 1457.6h0M749.4 1435.9h0M760.1 1412.1h0M759.6 1468.7h0M755.4 1415.3h0M754.8 1428.7h0M749.1 1431.5h0M740.9 1404.2h0M745.5 1445.7h0M747.5 1397.7h0M755.1 1454.2h0M748.8 1411.9h0M755.3 1391.4h0M747.9 1478.9h0M748.7 1401.3h0M759.9 1470.5h0M760.1 1367.6h0M749.2 1366.2h0M738.9 1428.6h0M747.9 1390.6h0M756.1 1481.7h0M749.8 1392.2h0M755.6 1468.9h0M749.2 1417.0h0M754.6 1396.1h0M747.8 1422.1h0M755.7 1383.2h0M747.9 1390.0h0M737.6 1467.4h0M753.6 1361.5h0M747.8 1314.8h0M749.2 1446.3h0M748.4 1449.3h0M753.5 1455.4h0M748.2 1339.7h0M759.6 1442.1h0M741.2 1479.7h0M759.7 1353.5h0M753.7 1429.1h0M747.6 1427.0h0M748.0 1461.1h0M759.6 1414.7h0M748.0 1433.3h0M755.0 1315.3h0M747.3 1402.2h0M753.2 1391.4h0M753.6 1385.7h0M748.0 1480.6h0M755.2 1351.1h0M759.5 1401.9h0M760.1 1456.9h0M755.7 1453.1h0M741.1 1418.5h0M748.0 1407.3h0M751.1 1451.9h0M747.9 1480.9h0M753.8 1460.4h0M759.1 1380.0h0M749.1 1348.8h0M753.6 1456.6h0M742.1 1369.9h0M750.5 1461.9h0M755.4 1467.3h0M753.5 1456.5h0M740.0 1400.7h0M744.3 1372.4h0M754.8 1392.2h0M748.2 1405.1h0M747.3 1367.9h0M746.7 1374.6h0M749.5 1393.7h0M742.0 1410.6h0M755.0 1429.4h0M754.9 1394.2h0M747.0 1375.4h0M754.5 1462.9h0M747.8 1474.6h0M759.8 1287.9h0M754.9 1416.0h0M748.3 1356.5h0M759.5 1345.3h0M755.5 1443.8h0M748.8 1373.0h0M749.5 1401.6h0M753.7 1396.9h0M759.9 1480.0h0M747.0 1470.9h0M755.2 1408.6h0M753.1 1429.5h0M757.3 1354.9h0M747.3 1401.2h0M748.9 1444.2h0M747.5 1364.6h0M755.2 1405.9h0M752.6 1370.8h0M738.1 1467.3h0M756.8 1432.8h0M759.0 1410.7h0M761.6 1456.3h0M739.2 1428.5h0M753.0 1432.1h0M754.9 1413.8h0M755.8 1328.5h0M742.0 1415.8h0M760.9 1388.3h0M759.1 1404.6h0M759.3 1312.8h0M740.3 1461.9h0M759.1 1416.9h0M759.2 1443.6h0M748.2 1420.6h0M748.1 1393.8h0M739.1 1453.9h0M755.0 1415.3h0M748.2 1424.5h0M755.6 1437.7h0M748.8 1442.4h0M749.6 1404.6h0M738.4 1471.0h0M759.2 1438.1h0M749.3 1401.7h0M743.6 1462.6h0M748.8 1452.2h0M753.1 1431.2h0M755.0 1381.0h0M749.9 1423.6h0M761.4 1441.6h0M747.9 1481.7h0M755.9 1443.4h0M752.7 1424.1h0M762.3 1456.0h0M747.6 1396.9h0M749.2 1414.1h0M748.1 1389.2h0M757.7 1455.5h0M745.3 1471.9h0M748.7 1447.7h0M753.2 1408.7h0M745.6 1396.9h0M756.2 1452.0h0M741.1 1439.3h0M748.9 1401.8h0M748.2 1328.7h0M747.3 1465.7h0M755.3 1342.7h0M749.2 1381.4h0M755.1 1402.1h0M755.0 1269.9h0M761.4 1414.0h0M748.2 1423.8h0M749.2 1424.1h0M747.2 1370.2h0M747.0 1410.8h0M742.9 1462.1h0M755.8 1419.2h0M755.7 1448.5h0M747.7 1430.2h0M756.5 1416.2h0M747.3 1454.7h0M748.9 1383.4h0M740.9 1371.0h0M748.2 1477.0h0M751.6 1342.3h0M747.8 1351.6h0M747.7 1393.5h0M748.7 1406.3h0M753.1 1451.3h0M749.4 1415.8h0M745.4 1393.4h0M755.7 1415.1h0M748.2 1406.1h0M747.5 1420.4h0M749.0 1394.1h0M738.6 1432.8h0M747.2 1464.0h0M759.1 1386.6h0M749.5 1374.5h0M752.2 1455.8h0M755.2 1388.5h0M750.5 1411.9h0M750.0 1353.0h0M755.6 1377.7h0M753.5 1317.8h0M741.4 1396.4h0M754.7 1367.4h0M749.7 1439.9h0M754.6 1436.6h0M748.2 1409.1h0M749.2 1418.2h0M748.4 1470.9h0M752.2 1434.0h0M753.1 1389.0h0M747.7 1336.5h0M759.1 1442.1h0M754.1 1387.0h0M760.2 1396.2h0M746.4 1416.6h0M755.3 1386.1h0M753.1 1331.2h0M748.8 1434.0h0M756.7 1403.5h0M748.3 1434.3h0M753.2 1392.1h0M738.9 1423.8h0M747.6 1439.9h0M748.0 1472.8h0M755.1 1463.9h0M745.6 1414.4h0M756.3 1372.7h0M742.1 1449.9h0M755.1 1342.2h0M759.4 1377.1h0M756.1 1474.5h0M758.3 1304.5h0M745.4 1446.1h0M739.4 1380.3h0M759.4 1321.7h0M748.0 1400.5h0M749.6 1452.2h0M747.5 1457.1h0M741.8 1410.1h0M745.5 1473.4h0M755.9 1356.3h0M748.0 1442.5h0M741.5 1370.5h0M749.3 1344.0h0M747.7 1437.1h0M747.2 1427.1h0M755.7 1388.4h0M762.2 1463.5h0M755.0 1426.0h0M749.3 1458.2h0M759.7 1398.2h0M745.2 1453.4h0M754.8 1447.2h0M738.9 1399.7h0M758.9 1447.8h0M749.9 1411.4h0M750.3 1420.8h0M759.3 1431.5h0M749.7 1427.4h0M749.3 1447.5h0M759.4 1468.0h0M750.4 1428.7h0M759.3 1387.5h0M751.1 1419.6h0M757.8 1400.0h0M749.9 1418.2h0M751.7 1456.1h0M750.2 1417.2h0M747.1 1440.4h0M750.0 1422.3h0M749.7 1450.8h0M754.2 1447.9h0M750.1 1417.8h0M759.4 1425.4h0M749.6 1443.5h0M745.3 1390.4h0M751.6 1451.3h0M749.1 1417.0h0M750.6 1417.8h0M750.0 1407.3h0M751.1 1384.5h0M759.5 1431.5h0M750.7 1456.3h0M753.5 1436.3h0M756.4 1435.9h0M751.1 1413.8h0M749.6 1437.4h0M750.2 1435.4h0M754.5 1423.7h0M749.5 1402.9h0M751.1 1437.3h0M746.0 1427.9h0M750.7 1435.9h0M756.9 1435.8h0M751.5 1424.8h0M751.8 1429.0h0M754.4 1427.5h0M749.0 1389.0h0M749.9 1411.1h0M749.3 1441.3h0M745.2 1431.2h0M759.1 1403.7h0M750.9 1413.1h0M749.9 1394.8h0M750.7 1416.7h0M750.8 1419.1h0M758.4 1423.8h0M749.4 1437.5h0M749.8 1438.9h0M750.2 1398.2h0M753.9 1424.3h0M750.9 1434.9h0M753.8 1416.7h0M754.9 1443.2h0M759.3 1390.8h0M748.7 1424.1h0M750.2 1451.3h0M759.5 1442.2h0M759.8 1407.5h0M755.3 1429.4h0M750.4 1418.5h0M750.7 1444.5h0M750.0 1422.5h0M758.7 1452.8h0M749.3 1435.8h0M750.8 1460.5h0M754.2 1387.0h0M749.8 1430.8h0M754.7 1407.7h0M759.5 1426.1h0M749.1 1442.6h0M750.4 1434.8h0M749.3 1406.0h0M751.8 1443.2h0M754.0 1430.6h0M749.4 1381.8h0M750.1 1426.1h0M756.8 1437.8h0M758.8 1432.1h0M759.7 1439.7h0M751.7 1392.9h0M754.0 1462.7h0M749.1 1403.7h0M756.1 1420.4h0M770.2 1340.5h0M769.1 1414.2h0M770.0 1434.1h0M770.0 1437.1h0M767.4 1458.9h0M771.1 1423.2h0M769.8 1418.1h0M769.8 1439.4h0M770.1 1424.3h0M770.9 1433.0h0M765.1 1407.9h0M773.1 1362.4h0M773.3 1435.1h0M770.9 1349.5h0M768.8 1450.6h0M767.9 1333.3h0M768.1 1444.2h0M770.2 1409.3h0M765.5 1388.6h0M769.8 1434.9h0M770.2 1396.8h0M769.8 1347.5h0M770.7 1478.6h0M775.4 1324.4h0M770.9 1455.6h0M770.0 1430.5h0M770.5 1404.8h0M768.1 1441.5h0M770.2 1398.1h0M770.4 1476.5h0M770.6 1406.1h0M766.9 1393.4h0M770.8 1379.5h0M769.9 1405.9h0M770.6 1459.2h0M775.8 1391.8h0M765.1 1484.6h0M770.5 1393.0h0M775.6 1384.1h0M770.7 1390.0h0M770.7 1428.2h0M764.6 1417.4h0M769.7 1421.6h0M770.2 1399.3h0M764.5 1444.1h0M770.4 1407.8h0M770.3 1421.1h0M771.6 1409.9h0M770.2 1366.9h0M767.8 1439.9h0M768.9 1404.8h0M769.2 1448.7h0M772.4 1392.8h0M769.7 1398.0h0M767.7 1437.1h0M775.4 1375.1h0M770.4 1331.1h0M769.3 1452.4h0M769.8 1431.3h0M763.1 1439.9h0M789.0 1434.0h0M780.2 1432.0h0M785.3 1403.2h0M788.5 1463.6h0M780.4 1374.3h0M789.3 1410.4h0M792.7 1417.5h0M787.4 1426.1h0M789.2 1411.5h0M786.8 1382.3h0M793.1 1421.7h0M784.2 1414.0h0M788.7 1437.9h0M790.4 1458.5h0M780.4 1400.4h0M789.1 1422.9h0M779.7 1426.0h0M792.8 1435.4h0M788.0 1369.3h0M780.3 1355.4h0M790.1 1379.4h0M790.1 1432.1h0M792.2 1287.1h0M790.3 1481.2h0M792.2 1353.6h0M790.0 1336.7h0M782.7 1451.8h0M780.5 1427.6h0M787.6 1420.0h0M790.9 1386.0h0M789.2 1435.1h0M790.1 1449.4h0M789.8 1465.0h0M780.2 1402.6h0M781.2 1338.2h0M786.1 1380.6h0M790.6 1380.7h0M791.9 1376.2h0M791.2 1462.0h0M785.9 1286.9h0M787.9 1455.4h0M789.5 1410.1h0M793.1 1374.6h0M787.7 1416.9h0M782.2 1451.1h0M780.3 1390.9h0M789.5 1459.7h0M789.4 1490.8h0M780.4 1405.5h0M781.2 1470.6h0M779.7 1452.3h0M781.2 1383.5h0M781.3 1428.8h0M786.5 1404.1h0M789.1 1301.2h0M787.9 1377.5h0M779.9 1467.7h0M789.5 1446.6h0M789.2 1463.2h0M789.1 1413.3h0M782.0 1366.9h0M788.3 1337.0h0M791.8 1465.7h0M790.3 1404.4h0M787.3 1390.3h0M790.4 1392.3h0M790.0 1416.2h0M789.4 1428.8h0M780.5 1467.4h0M790.0 1417.0h0M789.9 1417.8h0M780.8 1433.0h0M789.4 1422.5h0M780.5 1393.8h0M786.2 1402.7h0M781.2 1439.9h0M788.2 1410.0h0M783.5 1462.3h0M781.4 1474.2h0M790.4 1460.4h0M789.3 1429.6h0M789.8 1393.2h0M780.0 1378.2h0M780.9 1415.5h0M787.3 1338.8h0M789.3 1309.7h0M790.6 1436.5h0M784.2 1437.7h0M789.3 1443.1h0M788.9 1442.6h0M790.0 1361.2h0M789.9 1357.2h0M780.5 1447.0h0M789.9 1420.0h0M781.9 1443.9h0M789.4 1409.0h0M789.0 1425.1h0M788.0 1384.3h0M790.0 1414.8h0M786.7 1453.3h0M790.6 1461.4h0M792.2 1468.1h0M787.9 1311.3h0M781.2 1411.1h0M788.5 1448.9h0M781.7 1399.1h0M789.2 1386.0h0M790.5 1447.0h0M789.8 1443.4h0M789.9 1456.3h0M788.6 1404.0h0M781.0 1399.8h0M789.3 1400.8h0M787.6 1406.4h0M788.3 1416.7h0M789.6 1342.8h0M786.8 1425.1h0M787.8 1377.2h0M790.3 1419.5h0M788.3 1425.4h0M789.1 1397.8h0M788.9 1400.5h0M792.8 1428.1h0M792.2 1398.0h0M787.5 1334.6h0M793.0 1449.8h0M789.5 1372.3h0M791.0 1397.5h0M790.8 1379.1h0M792.7 1412.6h0M804.3 1455.4h0M812.0 1430.0h0M805.1 1460.1h0M799.8 1407.3h0M807.5 1360.7h0M807.9 1384.1h0M805.2 1359.1h0M801.9 1403.4h0M807.4 1414.3h0M808.5 1436.6h0M799.8 1428.1h0M812.2 1347.2h0M802.5 1425.0h0M808.8 1374.4h0M814.2 1409.2h0M802.0 1309.7h0M804.2 1436.7h0M808.0 1409.4h0M799.2 1396.7h0M812.3 1374.1h0M810.5 1411.3h0M807.4 1401.7h0M808.0 1393.3h0M811.7 1434.9h0M807.7 1408.4h0M807.7 1435.3h0M814.5 1476.5h0M813.9 1424.7h0M807.4 1430.3h0M814.7 1411.2h0M814.1 1404.2h0M807.9 1447.2h0M799.5 1443.4h0M802.6 1439.0h0M814.5 1428.8h0M811.9 1454.6h0M805.3 1312.7h0M807.0 1478.3h0M812.0 1416.4h0M805.3 1372.7h0M800.4 1426.7h0M803.5 1360.2h0M807.7 1458.9h0M799.9 1409.3h0M807.5 1460.2h0M807.6 1378.8h0M807.1 1298.0h0M807.0 1447.7h0M814.5 1276.8h0M810.9 1344.0h0M802.2 1425.5h0M815.0 1362.6h0M812.5 1420.5h0M813.8 1476.3h0M800.0 1439.9h0M800.4 1441.3h0M812.4 1445.1h0M799.5 1389.1h0M809.2 1475.6h0M805.4 1395.5h0M812.7 1361.1h0M799.6 1384.7h0M799.6 1470.8h0M805.3 1465.8h0M804.6 1410.2h0M812.3 1427.7h0M804.5 1378.9h0M807.3 1421.5h0M804.2 1403.6h0M815.1 1439.1h0M812.3 1384.9h0M814.0 1462.2h0M800.4 1395.3h0M804.4 1435.1h0M802.3 1356.0h0M810.2 1406.4h0M814.5 1426.5h0M808.1 1377.0h0M799.8 1436.5h0M803.7 1388.1h0M807.6 1441.4h0M807.3 1465.6h0M811.8 1449.2h0M805.8 1404.3h0M804.9 1372.6h0M812.5 1461.8h0M809.1 1365.8h0M809.9 1483.2h0M808.9 1416.9h0M804.5 1460.2h0M825.9 1385.2h0M824.0 1418.8h0M832.5 1402.4h0M821.6 1438.0h0M825.8 1458.0h0M822.1 1355.9h0M831.1 1462.7h0M833.1 1396.0h0M822.5 1397.6h0M825.7 1356.7h0M825.8 1401.3h0M831.3 1402.0h0M828.7 1436.4h0M827.6 1366.3h0M827.8 1443.8h0M833.8 1388.6h0M832.8 1434.9h0M822.5 1438.0h0M825.9 1446.4h0M826.0 1433.6h0M825.9 1408.8h0M832.3 1451.5h0M822.5 1419.3h0M831.1 1398.9h0M821.9 1435.9h0M821.2 1433.0h0M824.7 1422.1h0M830.8 1403.2h0M829.9 1407.2h0M833.0 1447.7h0M822.4 1391.2h0M826.3 1416.8h0M826.6 1423.3h0M825.9 1457.3h0M826.4 1469.1h0M831.0 1396.5h0M821.8 1372.8h0M832.9 1441.7h0M826.6 1438.9h0M826.0 1471.5h0M831.1 1436.9h0M826.5 1429.6h0M821.2 1445.1h0M826.3 1461.1h0M827.9 1390.6h0M833.6 1403.3h0M831.6 1382.7h0M823.4 1424.7h0M828.4 1431.5h0M823.8 1451.8h0M821.1 1426.4h0M824.9 1396.6h0M831.2 1358.2h0M826.9 1472.0h0M828.3 1398.9h0M822.6 1423.2h0M825.6 1438.3h0M833.6 1421.7h0M824.5 1404.7h0M826.3 1404.3h0M826.1 1415.3h0M825.6 1440.0h0M825.1 1473.5h0M822.6 1489.6h0M826.2 1405.3h0M826.2 1416.4h0M821.7 1463.2h0M826.7 1456.5h0M824.0 1419.4h0M822.0 1480.3h0M827.8 1465.0h0M824.5 1390.7h0M826.4 1441.0h0M833.2 1485.4h0M826.0 1422.0h0M825.9 1463.2h0M827.9 1422.2h0M825.9 1457.2h0M821.7 1383.6h0M826.3 1435.7h0M864.1 1375.1h0M847.3 1428.1h0M842.8 1455.5h0M848.1 1427.0h0M864.1 1326.6h0M848.2 1444.2h0M847.3 1386.0h0M863.9 1391.4h0M859.2 1439.2h0M860.6 1353.5h0M863.7 1459.3h0M854.1 1393.0h0M863.6 1441.9h0M842.0 1368.0h0M852.6 1452.2h0M865.9 1276.4h0M846.9 1476.9h0M854.0 1405.6h0M839.6 1446.8h0M863.5 1343.3h0M862.8 1409.4h0M858.2 1381.1h0M857.1 1406.1h0M863.7 1377.0h0M865.9 1289.7h0M858.4 1375.9h0M846.6 1435.7h0M846.6 1387.2h0M836.3 1457.7h0M844.8 1431.9h0M838.4 1457.6h0M861.4 1381.8h0M840.8 1417.8h0M843.9 1388.8h0M856.8 1451.5h0M858.7 1423.0h0M845.6 1367.5h0M844.7 1434.3h0M864.5 1441.0h0M863.4 1464.2h0M860.9 1440.5h0M842.9 1397.5h0M839.4 1478.3h0M846.2 1342.9h0M846.8 1404.6h0M857.4 1418.6h0M864.0 1356.5h0M856.3 1421.8h0M855.2 1422.9h0M856.5 1410.7h0M854.2 1445.9h0M843.6 1447.6h0M847.1 1450.4h0M852.5 1468.3h0M846.6 1381.5h0M863.7 1441.5h0M852.6 1390.0h0M855.4 1390.2h0M860.5 1394.4h0M851.2 1379.1h0M844.7 1362.8h0M858.3 1462.8h0M864.0 1436.4h0M840.3 1377.0h0M856.6 1455.4h0M845.1 1428.9h0M844.2 1371.0h0M864.4 1437.5h0M852.4 1320.2h0M846.3 1479.8h0M864.3 1387.7h0M853.2 1451.3h0M847.1 1455.8h0M846.3 1293.6h0M848.7 1467.8h0M861.4 1335.3h0M846.4 1440.1h0M864.4 1470.8h0M843.2 1454.9h0M843.8 1349.1h0M846.0 1440.2h0M844.3 1383.7h0M858.0 1417.5h0M843.5 1323.8h0M846.2 1438.0h0M837.5 1400.0h0M847.7 1448.4h0M847.6 1401.0h0M846.6 1415.4h0M861.2 1459.3h0M849.8 1441.4h0M851.0 1468.6h0M853.1 1474.0h0M837.2 1433.8h0M864.5 1495.0h0M847.0 1369.8h0M856.4 1430.9h0M849.3 1390.6h0M855.5 1416.4h0M844.2 1290.2h0M841.0 1394.9h0M840.7 1371.7h0M863.7 1453.8h0M861.0 1389.5h0M853.1 1386.2h0M853.2 1447.0h0M853.4 1451.3h0M856.1 1461.0h0M863.8 1480.1h0M855.8 1362.6h0M863.2 1434.8h0M858.6 1354.1h0M855.3 1460.7h0M864.0 1319.9h0M852.3 1325.0h0M861.4 1377.0h0M845.1 1414.7h0M855.4 1406.7h0M848.4 1432.2h0M841.1 1257.5h0M845.0 1447.4h0M858.4 1441.1h0M848.2 1420.1h0M858.7 1382.8h0M853.3 1414.5h0M847.7 1458.4h0M863.9 1430.5h0M852.4 1375.2h0M858.0 1399.6h0M845.3 1310.2h0M856.1 1405.8h0M864.3 1459.3h0M847.3 1374.8h0M846.0 1360.1h0M847.7 1434.4h0M862.7 1425.7h0M856.5 1348.9h0M852.7 1479.4h0M847.1 1487.3h0M863.8 1366.9h0M841.5 1360.4h0M863.4 1397.5h0M838.3 1431.3h0M844.4 1433.7h0M846.3 1465.4h0M855.9 1445.0h0M847.7 1389.0h0M846.3 1333.9h0M847.1 1387.5h0M851.6 1402.6h0M883.9 1411.6h0M897.6 1455.5h0M893.4 1309.3h0M892.9 1424.0h0M881.0 1439.6h0M899.7 1476.8h0M900.2 1418.7h0M893.0 1420.9h0M912.0 1420.0h0M898.2 1404.2h0M910.6 1445.9h0M897.5 1447.2h0M893.4 1396.3h0M893.3 1429.6h0M893.5 1440.2h0M894.3 1416.2h0M883.1 1440.0h0M899.9 1357.5h0M910.7 1459.5h0M901.2 1419.4h0M899.9 1437.6h0M899.9 1378.9h0M901.4 1489.6h0M893.1 1398.5h0M896.9 1399.7h0M893.6 1456.5h0M905.7 1406.7h0M897.7 1426.8h0M903.4 1411.0h0M884.2 1434.6h0M898.3 1417.8h0M897.2 1396.9h0M900.2 1383.4h0M883.9 1451.3h0M896.9 1398.9h0M909.7 1358.5h0M899.3 1442.3h0M884.2 1443.7h0M901.1 1440.9h0M897.6 1385.4h0M899.4 1457.5h0M883.8 1465.3h0M878.9 1461.0h0M884.1 1420.1h0M896.6 1424.5h0M890.0 1417.5h0M882.5 1378.2h0M898.7 1402.1h0M896.8 1344.0h0M884.7 1393.0h0M897.5 1440.0h0M892.5 1418.4h0M882.8 1390.9h0M897.2 1445.3h0M910.3 1379.6h0M883.1 1438.2h0M900.5 1480.3h0M900.0 1441.0h0M884.8 1396.4h0M896.8 1408.1h0M887.4 1444.0h0M893.1 1366.9h0M879.1 1450.0h0M897.5 1438.4h0M897.9 1361.8h0M887.5 1411.8h0M897.7 1476.7h0M899.6 1352.6h0M886.4 1460.8h0M893.2 1380.8h0M898.5 1391.9h0M883.4 1433.7h0M896.9 1414.4h0M879.3 1425.4h0M880.7 1397.9h0M897.7 1446.9h0M880.7 1426.7h0M893.2 1314.5h0M888.4 1373.3h0M897.5 1439.4h0M883.8 1443.1h0M880.2 1433.9h0M883.8 1471.3h0M897.0 1425.9h0M908.4 1424.6h0M902.3 1401.1h0M884.4 1398.9h0M906.6 1421.3h0M882.9 1400.3h0M897.1 1427.8h0M882.2 1433.4h0M897.7 1443.5h0M893.5 1424.3h0M884.1 1449.1h0M909.9 1473.5h0M881.1 1429.8h0M893.7 1383.7h0M893.4 1477.0h0M883.6 1397.1h0M897.7 1406.4h0M910.1 1435.3h0M898.2 1409.6h0M899.1 1370.8h0M881.1 1450.1h0M902.0 1386.9h0M878.8 1443.6h0M912.7 1405.1h0M910.6 1456.9h0M884.6 1479.3h0M879.3 1399.8h0M892.5 1428.7h0M909.7 1402.0h0M899.3 1422.0h0M894.3 1379.8h0M904.2 1349.1h0M901.1 1416.4h0M900.0 1407.6h0M897.3 1426.3h0M898.3 1407.8h0M889.9 1390.6h0M878.9 1359.6h0M898.9 1454.3h0M902.0 1438.5h0M887.1 1431.9h0M899.9 1388.0h0M900.2 1431.7h0M897.4 1482.9h0M890.8 1394.7h0M907.2 1451.3h0M893.0 1403.1h0M891.2 1389.5h0M893.0 1434.9h0M879.2 1432.8h0M897.9 1412.7h0M894.1 1413.9h0M909.1 1397.7h0M879.8 1420.8h0M879.2 1411.9h0M903.6 1388.5h0M904.2 1430.8h0M893.4 1404.5h0M900.7 1430.4h0M894.4 1415.6h0M900.1 1357.3h0M912.7 1459.0h0M910.3 1437.5h0M884.6 1427.0h0M907.1 1386.0h0M904.9 1406.8h0M878.9 1442.0h0M892.6 1395.7h0M893.1 1458.4h0M884.0 1418.9h0M900.0 1433.5h0M882.9 1383.4h0M909.6 1432.5h0M884.8 1396.6h0M912.7 1463.0h0M909.9 1421.8h0M897.3 1469.1h0M909.9 1371.7h0M897.1 1427.5h0M883.1 1417.9h0M909.7 1404.8h0M880.7 1320.8h0M898.5 1451.2h0M883.8 1439.5h0M910.4 1359.6h0M905.9 1381.3h0M883.9 1357.7h0M910.2 1416.1h0M899.3 1419.4h0M892.6 1450.5h0M893.3 1432.5h0M910.5 1436.0h0M892.7 1459.6h0M910.1 1424.1h0M882.5 1407.3h0M886.7 1456.6h0M902.4 1436.5h0M896.9 1426.6h0M897.8 1428.1h0M903.5 1430.1h0M879.4 1391.7h0M912.9 1441.9h0M901.3 1415.6h0M909.7 1433.4h0M897.9 1405.2h0M892.6 1446.3h0M882.8 1469.2h0M883.6 1476.7h0M883.2 1406.3h0M904.5 1415.1h0M897.5 1387.1h0M880.2 1395.5h0M881.6 1441.4h0M899.0 1426.2h0M884.2 1447.0h0M898.4 1410.5h0M884.0 1388.5h0M893.1 1467.2h0M880.9 1418.4h0M883.7 1474.3h0M909.7 1473.1h0M879.6 1435.0h0M887.2 1421.4h0M894.5 1342.1h0M914.2 1447.3h0M899.0 1439.5h0M898.8 1378.6h0M895.2 1459.2h0M906.5 1441.7h0M896.7 1463.0h0M880.2 1427.4h0M910.3 1454.6h0M883.9 1433.7h0M906.0 1417.4h0M882.4 1401.1h0M893.5 1459.4h0M892.9 1385.0h0M910.0 1416.7h0M889.0 1345.0h0M899.4 1464.0h0M883.8 1423.7h0M899.5 1436.0h0M884.2 1393.9h0M900.3 1430.9h0M883.4 1446.4h0M884.1 1442.1h0M893.0 1445.1h0M880.9 1470.3h0M898.9 1449.5h0M892.9 1391.8h0M896.3 1387.6h0M892.5 1468.0h0M913.8 1408.5h0M882.5 1428.3h0M894.7 1398.2h0M910.2 1442.6h0M897.8 1455.5h0M883.9 1450.6h0M898.0 1327.5h0M896.8 1326.4h0M898.9 1351.8h0M892.5 1428.8h0M883.7 1479.7h0M898.5 1422.3h0M897.4 1460.5h0M898.2 1487.4h0M893.4 1424.8h0M909.6 1397.6h0M901.8 1392.0h0M894.2 1424.8h0M898.3 1439.2h0M884.3 1469.3h0M897.7 1351.2h0M884.6 1415.1h0M884.3 1446.6h0M901.1 1429.2h0M882.7 1455.8h0M893.3 1330.6h0M893.4 1333.6h0M899.7 1377.0h0M898.6 1392.0h0M900.1 1415.7h0M879.0 1413.9h0M898.0 1459.0h0M883.7 1370.0h0M880.8 1389.0h0M910.4 1464.2h0M899.8 1438.4h0M898.3 1390.8h0M897.9 1473.1h0M879.1 1424.7h0M898.7 1430.7h0M909.8 1425.9h0M882.4 1427.8h0M899.7 1402.0h0M899.6 1452.4h0M893.4 1446.1h0M908.0 1403.0h0M893.6 1441.9h0M893.4 1382.6h0M897.6 1410.7h0M879.6 1475.0h0M880.1 1424.0h0M878.7 1429.6h0M909.7 1443.2h0M897.1 1368.3h0M884.2 1430.7h0M897.9 1378.6h0M899.5 1418.5h0M896.7 1412.5h0M893.7 1359.4h0M879.8 1418.5h0M894.5 1427.8h0M906.6 1415.6h0M893.0 1413.3h0M905.3 1444.2h0M897.5 1330.1h0M898.4 1410.8h0M907.2 1414.3h0M881.3 1384.4h0M884.5 1455.0h0M910.0 1426.1h0M883.7 1466.2h0M879.5 1410.8h0M892.9 1339.1h0M884.2 1435.5h0M880.3 1395.9h0M893.5 1415.9h0M884.8 1401.0h0M892.9 1441.4h0M879.9 1392.6h0M910.2 1430.7h0M909.2 1368.9h0M908.7 1369.9h0M892.5 1446.4h0M883.9 1432.1h0M898.1 1405.5h0M901.1 1436.1h0M897.0 1440.6h0M891.7 1420.9h0M900.9 1457.5h0M897.5 1404.2h0M907.6 1426.0h0M891.5 1454.9h0M893.7 1391.6h0M908.0 1474.8h0M896.6 1416.3h0M908.0 1424.3h0M908.2 1355.7h0M896.6 1432.2h0M896.5 1457.4h0M907.2 1459.6h0M897.3 1407.5h0M907.6 1415.8h0M901.5 1441.4h0M891.0 1438.8h0M891.2 1407.1h0M908.1 1431.9h0M902.2 1449.0h0M891.3 1431.0h0M897.0 1447.4h0M897.3 1366.9h0M908.6 1395.0h0M908.6 1400.1h0M896.4 1417.1h0M895.9 1387.0h0M902.3 1439.2h0M908.1 1384.8h0M897.7 1424.9h0M897.9 1411.7h0M908.3 1442.0h0M900.9 1427.1h0M905.7 1427.2h0M897.1 1409.5h0M897.8 1409.3h0M897.0 1469.3h0M901.6 1423.8h0M896.7 1398.3h0M891.1 1425.0h0M909.4 1426.7h0M909.9 1397.3h0M893.6 1430.4h0M893.4 1399.7h0M892.0 1454.1h0M908.4 1447.5h0M902.5 1450.9h0M896.7 1398.1h0M909.8 1424.1h0M891.2 1401.3h0M901.4 1430.2h0M907.6 1419.9h0M891.6 1430.9h0M897.5 1429.4h0M896.8 1415.3h0M896.6 1455.8h0M891.9 1464.2h0M907.2 1423.4h0M897.8 1423.9h0M901.0 1443.0h0M892.0 1445.7h0M891.7 1436.2h0M890.8 1420.9h0M908.0 1432.2h0M908.1 1421.4h0M903.3 1395.2h0M896.5 1433.8h0M896.9 1394.6h0M891.6 1446.3h0M896.6 1450.0h0M904.5 1406.9h0M901.4 1401.5h0M896.6 1405.6h0M891.4 1438.5h0M898.4 1436.8h0M892.0 1439.9h0M908.6 1427.7h0M892.5 1405.1h0M907.6 1398.3h0M900.6 1408.9h0M892.5 1418.2h0M892.0 1437.9h0M890.1 1433.0h0M905.8 1431.9h0M905.7 1436.7h0M898.6 1456.0h0M897.4 1389.3h0M897.5 1408.3h0M896.4 1428.5h0M897.4 1437.0h0M908.2 1420.3h0M897.8 1470.2h0M907.6 1427.3h0M908.2 1416.0h0M898.0 1424.1h0M908.3 1457.2h0M902.0 1438.2h0M902.2 1459.1h0M923.2 1412.9h0M925.7 1349.4h0M922.4 1399.8h0M920.9 1455.2h0M922.0 1418.8h0M928.0 1356.5h0M925.3 1412.4h0M930.8 1351.9h0M923.2 1437.8h0M925.2 1369.2h0M925.3 1371.1h0M931.6 1382.3h0M931.0 1460.1h0M925.4 1379.7h0M926.1 1310.8h0M925.5 1361.7h0M922.9 1379.1h0M923.3 1465.2h0M922.3 1373.4h0M925.2 1377.7h0M922.7 1375.7h0M930.5 1439.3h0M922.0 1404.7h0M925.4 1468.0h0M922.2 1474.9h0M922.2 1404.8h0M925.4 1455.8h0M925.4 1243.3h0M921.6 1359.3h0M925.0 1448.0h0M924.3 1409.2h0M927.5 1425.1h0M924.5 1417.2h0M922.7 1407.3h0M929.7 1391.3h0M928.2 1485.3h0M922.6 1364.8h0M923.1 1442.1h0M922.2 1252.5h0M925.0 1452.4h0M945.9 1430.7h0M945.6 1432.9h0M945.8 1419.3h0M943.7 1438.8h0M944.6 1393.0h0M944.4 1430.6h0M944.0 1411.6h0M946.0 1487.2h0M945.6 1407.0h0M944.8 1323.0h0M943.0 1476.3h0M945.7 1430.1h0M945.1 1380.3h0M944.1 1427.6h0M944.6 1314.7h0M944.8 1323.8h0M944.5 1424.2h0M944.3 1391.7h0M945.5 1412.8h0M944.4 1252.9h0M965.3 1470.0h0M961.5 1468.8h0M961.1 1404.9h0M962.8 1436.7h0M961.9 1410.8h0M962.6 1441.5h0M961.1 1467.9h0M962.3 1403.1h0M1013.2 1428.0h0M999.8 1463.4h0M986.0 1434.3h0M1000.2 1446.2h0M1001.2 1442.3h0M990.1 1473.7h0M1014.2 1418.3h0M987.1 1390.2h0M999.2 1440.0h0M1015.9 1440.2h0M1001.0 1418.5h0M991.4 1400.1h0M990.3 1394.1h0M998.7 1477.7h0M990.1 1451.8h0M1007.5 1419.0h0M999.4 1402.9h0M977.4 1421.3h0M1006.1 1403.2h0M1017.5 1435.6h0M1010.5 1425.4h0M979.7 1440.0h0M983.8 1428.4h0M982.9 1469.6h0M1016.8 1398.7h0M1000.3 1415.1h0M989.3 1444.4h0M983.0 1409.5h0M1003.8 1385.6h0M984.5 1416.4h0M1017.4 1420.5h0M990.1 1360.4h0M978.1 1315.4h0M989.7 1415.0h0M1016.4 1414.5h0M1006.4 1386.5h0M985.3 1423.0h0M1009.6 1451.9h0M1007.9 1428.1h0M988.2 1457.5h0M1017.5 1412.3h0M997.9 1350.0h0M1002.0 1457.1h0M1005.3 1439.6h0M1017.6 1413.6h0M992.3 1435.8h0M1015.5 1463.5h0M1005.9 1408.0h0M987.0 1426.5h0M999.3 1418.7h0M1012.0 1417.4h0M1017.6 1408.6h0M980.5 1433.8h0M1006.2 1445.3h0M1016.4 1302.8h0M1000.9 1390.3h0M1001.4 1360.8h0M1001.3 1357.5h0M983.3 1435.5h0M981.9 1426.1h0M1014.1 1404.6h0M1001.2 1456.4h0M1017.0 1427.7h0M1001.6 1414.6h0M1001.1 1423.7h0M1014.1 1481.8h0M986.5 1409.8h0M1009.8 1451.5h0M986.5 1425.9h0M991.7 1353.2h0M1017.3 1481.9h0M1014.2 1330.3h0M1017.6 1402.6h0M1017.3 1449.1h0M983.3 1409.8h0M1013.1 1491.1h0M1017.7 1402.1h0M1017.3 1431.2h0M980.5 1429.4h0M1006.3 1386.3h0M1017.2 1421.1h0M1017.9 1470.3h0M982.3 1362.8h0M1001.1 1425.6h0M984.5 1438.8h0M986.8 1417.0h0M1001.7 1447.7h0M1002.0 1371.4h0M1017.0 1436.4h0M999.5 1420.3h0M1010.6 1429.1h0M1001.1 1402.1h0M1006.3 1417.3h0M991.3 1446.2h0M1001.7 1434.5h0M1016.4 1437.8h0M980.7 1459.6h0M1002.0 1446.2h0M1016.9 1351.1h0M985.6 1394.6h0M1005.8 1460.6h0M1006.6 1472.2h0M999.3 1393.4h0M988.1 1376.7h0M999.3 1463.7h0M1006.5 1390.6h0M987.8 1403.4h0M1006.4 1419.3h0M999.2 1405.7h0M986.7 1413.0h0M1001.7 1419.3h0M1017.3 1461.9h0M984.9 1395.8h0M1011.0 1416.2h0M1017.7 1464.4h0M987.1 1344.4h0M1016.8 1358.2h0M1017.3 1466.0h0M977.8 1420.2h0M1006.6 1387.3h0M1001.3 1437.4h0M1015.5 1425.6h0M984.5 1449.5h0M1001.7 1451.5h0M1017.0 1444.2h0M981.3 1371.6h0M986.6 1314.1h0M1017.7 1412.3h0M1017.1 1428.8h0M981.2 1416.2h0M984.9 1392.9h0M999.2 1429.5h0M999.7 1429.8h0M980.6 1449.9h0M998.1 1441.4h0M987.0 1409.4h0M1006.1 1430.9h0M1007.4 1422.3h0M1001.8 1332.1h0M1016.4 1372.3h0M980.7 1333.6h0M979.8 1387.1h0M1014.2 1379.5h0M998.9 1384.6h0M986.6 1372.1h0M982.6 1373.7h0M1001.2 1353.4h0M980.5 1430.0h0M1016.6 1433.1h0M1005.1 1464.9h0M1014.2 1407.3h0M1017.0 1436.2h0M984.2 1352.9h0M985.5 1478.7h0M981.0 1395.9h0M988.1 1415.2h0M983.1 1360.0h0M1005.9 1422.3h0M1000.4 1393.5h0M1001.5 1435.9h0M1017.9 1362.0h0M999.1 1419.7h0M984.2 1410.6h0M999.6 1439.4h0M1002.0 1440.9h0M986.7 1419.1h0M980.6 1456.1h0M1006.1 1452.4h0M985.1 1426.3h0M999.8 1380.0h0M980.2 1466.6h0M995.4 1428.4h0M980.2 1345.1h0M1006.0 1474.5h0M983.0 1434.8h0M1002.1 1428.3h0M989.8 1424.3h0M1000.0 1399.8h0M997.3 1479.4h0M1011.6 1423.3h0M1015.8 1298.5h0M1007.8 1385.8h0M985.4 1409.9h0M1017.3 1447.4h0M1001.0 1422.1h0M1014.4 1446.6h0M996.8 1452.2h0M999.4 1357.8h0M986.9 1382.4h0M1017.7 1434.4h0M1017.8 1404.2h0M982.8 1404.6h0M986.7 1452.8h0M1016.6 1446.0h0M986.7 1378.5h0M1018.0 1404.3h0M1013.9 1413.0h0M1001.3 1347.6h0M1006.5 1467.2h0M984.9 1366.0h0M1017.9 1395.0h0M984.5 1419.7h0M1017.1 1397.9h0M1014.5 1325.2h0M1016.5 1322.2h0M1012.4 1390.0h0M986.9 1459.5h0M1001.3 1429.8h0M984.3 1431.4h0M1017.6 1445.9h0M986.4 1437.7h0M1001.2 1449.5h0M1006.5 1460.8h0M980.3 1361.6h0M1007.1 1398.6h0M980.2 1409.8h0M1017.1 1380.4h0M990.8 1432.6h0M1005.6 1409.7h0M1017.6 1419.9h0M1004.9 1407.9h0M1007.2 1404.3h0M995.6 1439.7h0M1006.6 1432.0h0M1006.8 1449.8h0M995.5 1418.9h0M998.1 1455.0h0M1006.7 1446.4h0M1011.0 1407.7h0M998.5 1437.7h0M998.5 1428.9h0M1007.3 1450.9h0M1000.5 1423.2h0M1004.3 1417.8h0M1007.7 1462.1h0M1017.8 1396.4h0M1011.0 1425.0h0M1013.9 1456.7h0M1009.6 1440.1h0M997.0 1427.6h0M1007.0 1417.3h0M998.3 1409.9h0M1009.2 1430.5h0M1004.7 1437.6h0M1014.3 1389.7h0M997.8 1441.0h0M998.2 1441.5h0M1009.6 1465.9h0M1005.8 1454.5h0M1017.0 1399.6h0M1011.2 1427.7h0M1004.5 1455.0h0M998.8 1469.6h0M1007.1 1441.5h0M1017.2 1385.5h0M1016.6 1398.5h0M995.1 1419.8h0M1005.1 1400.7h0M1000.2 1445.3h0M1006.5 1430.0h0M998.9 1435.9h0M1009.9 1449.3h0M1007.6 1436.6h0M1005.0 1438.8h0M1009.3 1423.4h0M1009.6 1405.0h0M999.6 1437.8h0M1003.3 1417.5h0M1007.6 1415.9h0M998.6 1448.5h0M1001.2 1409.6h0M1017.6 1384.8h0M1000.6 1411.9h0M1018.5 1454.3h0M1010.7 1409.2h0M1006.8 1428.9h0M1016.8 1430.3h0M1010.1 1401.7h0M1006.0 1391.7h0M1009.2 1412.2h0M760.1 1288.8h0M864.3 1256.2h0M959.2 1229.7h0M781.9 1250.5h0M661.3 1185.2h0M659.9 1268.4h0M868.6 1185.5h0M972.0 1181.0h0M701.2 1206.3h0M932.3 1244.9h0M1018.1 1263.4h0M934.0 1261.1h0M918.1 1233.7h0M1002.5 1263.4h0M824.9 1245.7h0M814.9 1208.5h0M887.1 1276.4h0M881.7 1167.6h0M775.5 1218.3h0M1014.0 1201.8h0M734.6 1169.2h0M632.7 1209.3h0M321.8 1333.7h0M225.5 1392.4h0M428.5 1276.0h0M329.6 1358.5h0M241.6 1284.7h0M273.7 1331.5h0M403.8 1370.1h0M305.9 1253.8h0M240.3 1304.8h0M238.6 1293.6h0M416.9 1322.1h0M291.4 1312.1h0M429.4 1398.4h0M392.3 1263.3h0M423.6 1381.9h0M329.2 1274.0h0M387.9 1372.1h0M465.0 1373.6h0M274.5 1275.1h0M456.2 1379.8h0" stroke="#3f7ea6" stroke-width="2.1" stroke-linecap="round" fill="none" opacity="0.9"/>
<path d="M264.0 1504.9h0M263.9 1490.8h0M263.7 1458.4h0M263.9 1495.0h0M265.7 1476.6h0M264.2 1513.4h0M264.5 1498.4h0M264.1 1471.8h0M264.2 1494.9h0M268.0 1498.3h0M264.0 1479.4h0M266.8 1480.8h0M265.3 1506.7h0M264.4 1513.9h0M264.1 1518.2h0M264.0 1525.4h0M264.7 1495.8h0M264.0 1449.3h0M265.4 1448.3h0M266.8 1463.8h0M263.8 1504.4h0M264.1 1516.9h0M263.9 1465.2h0M264.3 1497.3h0M264.8 1482.9h0M264.6 1444.0h0M264.4 1480.5h0M264.2 1506.5h0M264.2 1499.9h0M264.3 1486.8h0M265.3 1448.9h0M263.8 1474.0h0M264.3 1473.3h0M263.8 1493.5h0M264.3 1518.6h0M266.5 1437.1h0M267.1 1516.8h0M265.5 1434.9h0M264.8 1501.2h0M264.6 1463.6h0M263.9 1446.0h0M266.5 1491.9h0M263.9 1462.9h0M267.1 1479.8h0M263.6 1497.1h0M264.1 1470.3h0M266.4 1506.5h0M266.1 1514.1h0M267.0 1465.0h0M264.2 1474.1h0M264.0 1454.9h0M267.0 1498.5h0M263.9 1503.7h0M264.3 1481.2h0M263.7 1496.3h0M263.8 1498.5h0M263.9 1478.1h0M263.9 1475.1h0M264.5 1495.6h0M266.9 1501.9h0M284.1 1466.0h0M283.7 1508.1h0M275.1 1479.6h0M283.1 1438.2h0M272.1 1502.5h0M285.4 1511.2h0M283.1 1468.7h0M272.0 1478.1h0M284.8 1510.0h0M283.5 1470.5h0M284.2 1503.6h0M284.6 1479.2h0M289.0 1457.9h0M277.9 1460.3h0M285.4 1492.2h0M280.6 1515.6h0M285.1 1468.5h0M282.3 1483.9h0M284.1 1460.5h0M271.7 1455.0h0M271.7 1487.5h0M283.9 1478.8h0M282.5 1486.8h0M288.0 1419.7h0M289.0 1455.6h0M295.4 1512.2h0M293.5 1491.8h0M302.8 1488.6h0M295.8 1506.0h0M302.2 1468.5h0M295.0 1498.6h0M302.3 1511.7h0M297.6 1513.6h0M301.9 1484.0h0M298.3 1494.6h0M297.6 1510.3h0M297.2 1508.2h0M302.4 1517.5h0M301.6 1487.6h0M302.0 1503.1h0M300.4 1506.8h0M301.9 1506.5h0M303.3 1488.1h0M302.2 1470.6h0M296.8 1472.7h0M295.1 1441.2h0M302.3 1510.5h0M301.8 1493.4h0M302.7 1494.8h0M296.7 1465.4h0M296.8 1492.1h0M297.4 1477.5h0M303.0 1513.1h0M296.5 1466.2h0M302.4 1500.5h0M292.0 1504.1h0M297.1 1467.2h0M295.1 1514.6h0M297.0 1485.5h0M302.7 1513.7h0M300.4 1474.3h0M301.7 1466.4h0M295.0 1499.0h0M297.2 1505.4h0M296.7 1502.8h0M303.3 1490.3h0M302.1 1506.4h0M297.6 1460.1h0M301.4 1486.7h0M302.6 1486.0h0M295.2 1514.9h0M303.1 1486.4h0M293.8 1465.4h0M297.1 1491.6h0M300.5 1482.3h0M355.2 1493.2h0M355.0 1488.6h0M352.6 1463.9h0M359.6 1502.9h0M349.5 1444.3h0M353.2 1455.7h0M352.7 1482.8h0M355.9 1491.2h0M352.5 1489.9h0M357.2 1503.9h0M356.1 1436.3h0M356.0 1503.7h0M358.2 1478.7h0M356.7 1493.5h0M346.8 1491.7h0M347.6 1489.9h0M358.2 1484.4h0M348.2 1468.4h0M352.2 1479.5h0M356.7 1496.5h0M353.1 1511.7h0M363.1 1491.7h0M356.0 1519.7h0M346.6 1484.5h0M348.3 1501.6h0M347.9 1467.0h0M357.0 1464.8h0M348.2 1474.5h0M352.5 1508.5h0M355.9 1478.0h0M355.9 1524.1h0M355.3 1466.3h0M355.3 1505.6h0M363.9 1494.7h0M355.9 1453.6h0M355.4 1507.7h0M348.5 1447.6h0M353.4 1495.7h0M355.4 1503.1h0M356.2 1490.8h0M354.7 1494.4h0M356.0 1471.0h0M348.0 1507.4h0M352.2 1473.9h0M356.7 1522.4h0M348.2 1499.1h0M352.8 1461.0h0M353.7 1485.6h0M347.2 1521.0h0M355.9 1479.3h0M356.7 1479.5h0M356.0 1459.5h0M353.0 1450.1h0M348.5 1490.6h0M352.3 1519.0h0M347.7 1493.8h0M353.3 1507.9h0M352.6 1463.5h0M355.3 1509.5h0M355.0 1482.9h0M356.2 1476.3h0M356.0 1484.6h0M352.3 1483.0h0M353.6 1493.0h0M355.6 1499.1h0M355.9 1505.9h0M359.7 1480.9h0M363.6 1501.0h0M356.5 1472.4h0M355.7 1488.1h0M352.5 1466.8h0M347.6 1485.0h0M352.2 1508.3h0M349.1 1484.3h0M353.0 1471.8h0M352.8 1490.0h0M355.0 1496.4h0M354.3 1498.1h0M347.6 1484.8h0M353.9 1491.7h0M355.4 1424.4h0M352.4 1506.6h0M353.2 1472.6h0M357.0 1440.9h0M355.1 1450.2h0M353.5 1512.3h0M356.4 1473.3h0M355.5 1491.9h0M347.7 1467.2h0M361.5 1496.9h0M348.7 1485.4h0M348.7 1479.2h0M348.7 1484.9h0M355.7 1493.4h0M348.3 1426.0h0M353.0 1517.6h0M352.7 1481.3h0M353.3 1457.7h0M347.6 1495.1h0M352.9 1483.1h0M356.2 1467.0h0M347.9 1469.7h0M349.7 1486.0h0M355.9 1499.9h0M355.4 1501.7h0M356.4 1491.0h0M355.8 1427.3h0M353.2 1488.8h0M354.1 1499.1h0M353.3 1468.8h0M356.1 1484.9h0M352.3 1448.4h0M348.4 1477.9h0M356.6 1487.7h0M357.0 1439.6h0M355.2 1483.8h0M348.9 1505.9h0M356.0 1507.0h0M355.8 1496.6h0M352.8 1451.6h0M348.0 1488.6h0M352.3 1507.0h0M355.5 1507.2h0M350.3 1488.0h0M348.0 1506.9h0M361.6 1511.1h0M356.9 1479.2h0M356.0 1493.7h0M348.1 1492.6h0M349.5 1481.2h0M355.9 1483.3h0M356.5 1495.7h0M356.3 1487.0h0M355.0 1481.1h0M355.9 1491.1h0M347.6 1468.2h0M347.7 1513.0h0M355.9 1464.1h0M356.7 1490.1h0M347.9 1459.7h0M356.0 1460.5h0M352.7 1410.0h0M355.9 1483.2h0M356.0 1503.2h0M346.5 1502.4h0M348.0 1496.6h0M348.0 1507.0h0M358.1 1482.5h0M353.2 1445.8h0M353.5 1475.2h0M352.2 1479.7h0M353.2 1492.8h0M356.4 1491.1h0M353.6 1483.2h0M360.7 1475.0h0M354.9 1492.5h0M350.9 1485.5h0M348.1 1463.0h0M353.0 1497.7h0M361.4 1431.8h0M378.0 1503.5h0M378.0 1496.3h0M379.8 1462.0h0M378.1 1477.9h0M378.4 1494.6h0M380.0 1438.1h0M377.9 1478.6h0M377.5 1490.8h0M377.4 1497.1h0M379.8 1493.5h0M379.5 1500.8h0M378.7 1513.0h0M377.7 1475.5h0M381.8 1478.1h0M377.7 1447.5h0M389.2 1493.3h0M389.9 1493.7h0M395.1 1411.5h0M390.1 1483.9h0M390.2 1486.3h0M392.4 1477.8h0M390.0 1483.8h0M397.0 1435.0h0M389.8 1484.0h0M394.1 1515.4h0M389.0 1466.5h0M389.9 1460.0h0M389.3 1487.4h0M394.4 1425.7h0M389.4 1485.1h0M389.1 1466.3h0M389.0 1492.6h0M394.7 1478.9h0M390.4 1470.2h0M389.3 1497.5h0M390.0 1438.4h0M395.0 1486.7h0M394.1 1470.0h0M389.0 1487.2h0M389.3 1468.6h0M389.1 1456.5h0M393.0 1456.1h0M389.1 1436.9h0M393.6 1482.7h0M389.8 1458.8h0M389.5 1452.4h0M394.1 1488.6h0M394.8 1481.3h0M389.6 1463.6h0M389.8 1472.9h0M394.5 1468.3h0M392.3 1473.9h0M389.9 1476.2h0M389.0 1506.7h0M389.3 1419.9h0M445.1 1485.7h0M443.0 1487.9h0M447.9 1503.6h0M442.2 1482.2h0M435.1 1468.2h0M435.6 1442.2h0M428.3 1473.2h0M437.1 1482.2h0M435.4 1458.7h0M427.6 1481.5h0M434.8 1496.0h0M427.5 1466.0h0M422.2 1455.0h0M438.4 1453.3h0M441.8 1487.9h0M415.0 1466.8h0M426.8 1485.8h0M426.1 1467.1h0M428.0 1489.7h0M428.6 1506.9h0M435.0 1427.4h0M437.1 1449.6h0M437.0 1479.8h0M422.2 1494.5h0M409.4 1473.7h0M435.7 1495.8h0M444.4 1482.8h0M438.5 1451.0h0M442.3 1469.2h0M411.0 1448.4h0M433.9 1466.8h0M413.6 1495.5h0M434.2 1480.7h0M435.4 1510.7h0M436.0 1422.3h0M439.8 1452.5h0M427.9 1505.8h0M413.8 1475.1h0M426.9 1487.7h0M442.3 1465.7h0M415.3 1453.1h0M432.8 1475.5h0M441.5 1447.1h0M438.3 1454.6h0M420.2 1499.5h0M413.8 1502.6h0M418.6 1486.1h0M438.3 1481.8h0M413.3 1435.4h0M430.8 1503.4h0M444.6 1417.4h0M414.0 1505.3h0M438.7 1448.6h0M433.6 1487.8h0M442.1 1506.4h0M433.6 1482.6h0M429.3 1460.8h0M422.1 1458.4h0M433.3 1456.4h0M435.0 1493.5h0M439.0 1484.9h0M442.2 1451.0h0M428.0 1440.4h0M444.8 1475.9h0M437.9 1510.3h0M436.6 1487.7h0M437.5 1485.8h0M444.8 1439.4h0M440.7 1451.9h0M421.2 1462.1h0M436.7 1490.6h0M427.1 1507.9h0M434.8 1487.7h0M436.9 1488.1h0M434.9 1443.0h0M441.0 1479.7h0M408.2 1475.4h0M432.7 1497.3h0M433.3 1498.7h0M445.6 1420.4h0M420.8 1475.2h0M410.0 1486.0h0M421.9 1472.2h0M433.4 1488.9h0M413.8 1462.2h0M445.4 1467.6h0M414.4 1454.6h0M446.8 1434.3h0M409.6 1491.0h0M427.6 1479.8h0M433.3 1502.6h0M441.6 1458.7h0M438.7 1469.8h0M427.4 1447.5h0M442.3 1433.5h0M427.0 1468.4h0M440.0 1484.7h0M444.6 1436.9h0M448.2 1492.6h0M413.7 1455.0h0M426.8 1509.0h0M414.8 1451.5h0M427.6 1505.1h0M426.9 1504.1h0M436.8 1503.9h0M438.2 1445.2h0M445.1 1452.6h0M437.4 1482.0h0M409.3 1470.6h0M433.5 1477.9h0M421.6 1490.0h0M438.4 1456.3h0M416.6 1467.0h0M435.6 1497.3h0M428.5 1499.7h0M408.6 1455.6h0M416.2 1468.5h0M412.8 1456.3h0M427.5 1482.7h0M442.0 1455.8h0M439.6 1425.1h0M444.4 1472.6h0M430.3 1474.8h0M428.1 1495.1h0M410.3 1493.9h0M439.8 1476.3h0M408.0 1472.2h0M441.1 1485.2h0M445.1 1470.8h0M441.8 1480.2h0M442.7 1465.1h0M411.3 1486.9h0M413.2 1457.8h0M442.1 1464.1h0M421.8 1473.6h0M442.4 1497.5h0M437.8 1494.1h0M445.3 1452.2h0M422.1 1502.0h0M437.9 1446.7h0M417.6 1482.7h0M433.5 1450.1h0M434.5 1458.4h0M439.0 1425.3h0M418.5 1501.0h0M426.8 1424.1h0M414.1 1504.1h0M440.4 1484.5h0M420.2 1476.2h0M415.4 1459.1h0M437.2 1477.0h0M424.1 1437.3h0M410.8 1491.3h0M439.0 1453.7h0M448.6 1472.4h0M433.5 1487.5h0M417.4 1505.2h0M427.4 1469.2h0M434.0 1454.4h0M437.3 1480.7h0M426.6 1491.6h0M439.3 1447.8h0M413.4 1471.5h0M438.5 1483.2h0M411.0 1495.6h0M421.4 1471.0h0M416.5 1479.1h0M440.7 1482.9h0M440.2 1489.7h0M437.2 1481.7h0M428.5 1486.1h0M437.2 1472.5h0M434.8 1465.0h0M422.3 1476.2h0M417.6 1486.1h0M439.6 1473.5h0M415.7 1421.2h0M439.4 1489.8h0M443.0 1457.6h0M437.5 1473.4h0M427.8 1468.0h0M410.9 1451.7h0M445.1 1453.8h0M427.0 1517.0h0M426.8 1462.6h0M430.6 1422.1h0M411.6 1510.5h0M429.0 1473.0h0M415.9 1458.3h0M439.1 1505.7h0M442.3 1464.1h0M437.0 1409.2h0M439.1 1414.4h0M439.5 1506.4h0M445.1 1466.4h0M436.7 1453.0h0M443.0 1516.6h0M437.9 1469.2h0M410.4 1436.5h0M427.1 1463.6h0M431.5 1461.2h0M423.9 1475.6h0M416.8 1477.4h0M440.6 1457.7h0M434.9 1470.2h0M426.2 1464.5h0M433.1 1392.2h0M427.0 1447.5h0M436.8 1427.7h0M440.3 1461.8h0M441.4 1459.5h0M440.1 1467.6h0M439.8 1479.2h0M433.7 1496.3h0M418.3 1507.6h0M424.1 1409.2h0M426.9 1455.6h0M442.2 1496.9h0M440.9 1458.8h0M439.6 1472.6h0M435.7 1432.3h0M415.1 1417.1h0M440.0 1447.6h0M445.0 1504.3h0M414.0 1479.3h0M422.0 1442.9h0M414.0 1472.3h0M442.1 1471.2h0M415.7 1445.4h0M442.3 1469.6h0M437.5 1426.9h0M444.8 1474.6h0M433.2 1467.4h0M411.4 1492.1h0M425.4 1484.0h0M441.9 1480.2h0M442.1 1486.0h0M434.0 1496.1h0M415.2 1498.6h0M419.6 1475.6h0M435.7 1418.6h0M444.6 1505.7h0M426.6 1482.1h0M421.1 1471.6h0M448.5 1453.5h0M428.4 1459.7h0M439.8 1476.5h0M442.2 1464.1h0M428.0 1470.5h0M438.9 1476.9h0M440.2 1493.7h0M426.7 1482.0h0M416.6 1494.0h0M440.7 1443.9h0M414.2 1454.6h0M416.7 1439.9h0M427.5 1452.5h0M428.0 1472.9h0M440.3 1453.7h0M413.5 1482.3h0M437.6 1435.0h0M438.8 1474.9h0M414.2 1459.0h0M447.3 1468.2h0M413.3 1492.1h0M427.3 1486.8h0M443.8 1475.2h0M444.7 1499.4h0M413.8 1475.2h0M411.5 1450.2h0M445.3 1463.4h0M433.7 1483.2h0M443.0 1507.3h0M433.0 1450.9h0M438.0 1456.5h0M445.2 1453.7h0M438.0 1452.6h0M439.4 1483.0h0M428.4 1470.0h0M438.9 1466.2h0M439.8 1465.1h0M414.1 1453.4h0M433.3 1430.7h0M441.3 1476.3h0M445.0 1426.3h0M441.9 1480.3h0M437.8 1444.4h0M440.3 1433.3h0M444.8 1442.7h0M441.4 1460.3h0M413.6 1489.5h0M433.6 1451.4h0M413.9 1495.3h0M447.0 1493.6h0M418.2 1423.5h0M415.2 1482.0h0M438.2 1465.7h0M438.6 1472.1h0M448.6 1403.7h0M438.7 1466.7h0M415.8 1489.6h0M439.8 1464.1h0M442.6 1492.2h0M412.8 1430.1h0M436.6 1488.0h0M430.0 1493.0h0M439.9 1467.8h0M416.0 1483.3h0M433.2 1457.5h0M416.5 1465.6h0M415.3 1470.1h0M433.6 1452.2h0M438.3 1479.7h0M437.8 1490.9h0M428.0 1417.5h0M428.8 1496.1h0M435.0 1471.5h0M415.2 1431.4h0M437.8 1483.1h0M433.5 1483.1h0M435.6 1469.4h0M445.4 1468.5h0M448.7 1488.8h0M415.6 1458.4h0M434.0 1480.7h0M440.0 1480.3h0M449.0 1485.0h0M434.9 1444.9h0M443.5 1489.1h0M412.3 1441.9h0M444.8 1469.8h0M428.5 1441.9h0M437.5 1485.9h0M436.8 1478.0h0M442.0 1446.1h0M434.0 1474.2h0M439.6 1490.3h0M438.0 1502.3h0M436.9 1491.9h0M418.4 1440.9h0M441.7 1511.5h0M427.5 1479.7h0M437.7 1485.3h0M413.5 1469.4h0M436.9 1459.6h0M444.6 1466.4h0M439.7 1452.5h0M441.8 1445.2h0M436.7 1482.8h0M428.1 1447.2h0M433.1 1478.9h0M432.8 1451.2h0M435.5 1495.1h0M437.6 1492.9h0M440.2 1458.1h0M446.9 1459.0h0M440.2 1454.2h0M421.5 1441.3h0M439.3 1483.8h0M440.6 1450.9h0M442.4 1470.4h0M421.7 1516.3h0M442.3 1484.5h0M437.5 1475.5h0M415.9 1448.2h0M438.4 1467.7h0M426.8 1486.0h0M434.8 1472.9h0M414.1 1465.5h0M446.8 1514.7h0M412.6 1489.7h0M414.2 1481.7h0M438.6 1466.8h0M441.2 1461.7h0M414.0 1469.7h0M439.3 1498.4h0M422.1 1494.4h0M425.2 1487.3h0M442.4 1461.7h0M414.4 1468.0h0M413.3 1460.8h0M421.1 1506.9h0M443.0 1457.0h0M433.6 1418.5h0M430.6 1489.3h0M439.6 1474.8h0M440.0 1476.1h0M427.5 1500.6h0M413.7 1454.0h0M447.1 1439.4h0M415.1 1487.4h0M440.3 1462.9h0M435.9 1509.5h0M413.5 1484.3h0M427.5 1482.7h0M412.2 1430.3h0M413.9 1489.8h0M431.6 1513.9h0M447.1 1446.2h0M428.3 1504.5h0M414.0 1459.2h0M442.8 1466.0h0M415.9 1433.7h0M448.9 1498.6h0M438.9 1459.2h0M438.2 1444.7h0M413.4 1482.1h0M427.7 1506.0h0M437.0 1483.6h0M434.7 1483.7h0M444.5 1472.6h0M442.5 1481.3h0M412.3 1505.9h0M434.8 1462.3h0M440.2 1444.5h0M447.3 1458.5h0M432.7 1482.5h0M439.4 1492.3h0M425.6 1493.6h0M438.7 1489.2h0M442.9 1504.6h0M445.8 1452.7h0M432.9 1438.2h0M442.5 1476.5h0M413.9 1448.5h0M438.2 1510.5h0M441.7 1489.7h0M438.0 1470.5h0M437.2 1461.5h0M435.8 1505.9h0M440.5 1418.4h0M415.5 1491.9h0M441.3 1392.8h0M439.7 1485.4h0M435.1 1474.6h0M413.3 1489.3h0M427.1 1503.2h0M420.1 1476.9h0M438.4 1475.3h0M407.5 1469.5h0M411.3 1458.5h0M418.2 1450.6h0M441.7 1492.0h0M427.5 1461.8h0M418.4 1475.4h0M415.6 1390.3h0M436.7 1493.9h0M430.2 1502.0h0M439.3 1425.5h0M411.2 1457.7h0M439.9 1447.1h0M426.6 1488.5h0M417.2 1465.4h0M417.1 1448.5h0M434.0 1457.8h0M422.1 1497.9h0M432.4 1465.3h0M426.6 1479.0h0M433.0 1464.6h0M412.4 1461.8h0M438.6 1455.6h0M439.2 1434.6h0M439.9 1436.1h0M439.8 1437.1h0M428.4 1447.4h0M421.6 1479.4h0M407.1 1482.6h0M432.9 1437.7h0M421.1 1453.0h0M421.3 1499.9h0M439.2 1450.3h0M442.3 1448.4h0M439.9 1456.0h0M435.0 1424.9h0M439.7 1490.4h0M421.9 1518.5h0M414.2 1500.8h0M433.2 1502.6h0M421.5 1491.5h0M418.6 1445.1h0M428.2 1477.5h0M433.7 1442.9h0M411.8 1424.9h0M421.1 1450.0h0M448.8 1467.9h0M438.7 1450.6h0M434.1 1495.4h0M430.8 1464.0h0M433.6 1442.7h0M410.5 1478.8h0M433.5 1442.0h0M439.8 1469.2h0M428.7 1505.3h0M412.7 1487.2h0M414.2 1459.0h0M413.5 1493.5h0M415.7 1467.1h0M415.7 1469.6h0M421.8 1422.6h0M438.0 1477.9h0M429.0 1469.2h0M442.2 1471.1h0M435.5 1450.1h0M415.1 1505.7h0M442.7 1470.9h0M425.4 1490.8h0M414.7 1463.6h0M439.1 1460.2h0M444.4 1489.9h0M440.1 1482.2h0M425.5 1465.1h0M436.8 1447.5h0M427.0 1470.9h0M421.0 1487.4h0M427.4 1500.4h0M438.2 1436.2h0M411.0 1508.3h0M426.9 1492.3h0M427.5 1496.8h0M433.1 1463.8h0M417.1 1480.6h0M417.2 1492.2h0M435.6 1485.5h0M447.5 1465.7h0M445.3 1474.7h0M442.4 1494.4h0M411.4 1480.9h0M413.7 1463.0h0M444.5 1474.5h0M427.7 1497.1h0M413.8 1461.6h0M414.1 1498.5h0M434.9 1475.8h0M422.0 1489.7h0M438.1 1441.3h0M422.5 1444.0h0M433.5 1448.2h0M421.2 1515.2h0M432.9 1439.5h0M421.6 1487.5h0M426.2 1463.8h0M422.7 1474.6h0M442.0 1479.6h0M442.5 1469.1h0M421.4 1459.0h0M428.0 1459.5h0M439.6 1445.5h0M436.7 1486.3h0M437.5 1434.2h0M445.1 1457.9h0M422.3 1498.0h0M442.2 1480.3h0M427.7 1482.9h0M437.6 1479.0h0M435.3 1416.1h0M438.2 1454.7h0M438.0 1501.7h0M421.2 1450.2h0M428.0 1470.4h0M439.5 1483.3h0M443.5 1405.0h0M425.5 1468.3h0M441.0 1491.1h0M416.6 1416.5h0M437.6 1439.7h0M421.6 1467.9h0M441.5 1496.9h0M441.9 1473.5h0M444.8 1429.7h0M422.5 1498.8h0M414.1 1475.7h0M422.0 1468.3h0M434.6 1450.2h0M439.6 1447.5h0M434.9 1486.5h0M421.8 1469.8h0M437.1 1483.4h0M410.5 1475.4h0M417.7 1473.4h0M430.2 1497.8h0M447.3 1492.2h0M440.0 1491.6h0M422.2 1507.1h0M427.8 1486.8h0M438.2 1474.8h0M439.8 1463.5h0M433.3 1445.4h0M407.7 1458.5h0M413.9 1480.6h0M445.5 1486.6h0M411.1 1430.7h0M442.0 1494.5h0M440.3 1499.2h0M435.7 1455.3h0M444.6 1468.2h0M444.9 1494.2h0M437.4 1468.3h0M444.5 1479.3h0M448.2 1463.4h0M427.5 1512.0h0M441.7 1382.9h0M425.1 1420.5h0M419.8 1427.1h0M430.0 1413.0h0M408.1 1420.0h0M422.5 1402.3h0M438.8 1390.8h0M426.1 1428.6h0M417.1 1395.5h0M426.2 1411.4h0M423.4 1428.9h0M415.5 1443.4h0M446.8 1397.8h0M431.6 1409.9h0M423.4 1381.3h0M419.7 1439.2h0M430.7 1428.9h0M423.5 1419.9h0M423.1 1403.7h0M419.6 1402.7h0M426.3 1385.1h0M428.9 1373.5h0M417.2 1401.1h0M425.9 1377.8h0M423.9 1398.2h0M428.4 1417.7h0M425.7 1380.8h0M430.5 1410.6h0M427.3 1400.9h0M439.8 1421.0h0M448.6 1352.8h0M430.6 1388.8h0M430.6 1453.8h0M414.4 1413.7h0M442.2 1378.7h0M444.0 1440.7h0M423.1 1407.1h0M423.4 1429.9h0M434.9 1402.0h0M427.0 1390.3h0M439.7 1354.1h0M426.6 1403.1h0M437.0 1425.3h0M442.0 1398.9h0M427.0 1423.5h0M431.8 1489.7h0M433.3 1486.3h0M429.3 1488.1h0M428.5 1484.6h0M443.3 1472.6h0M444.5 1490.7h0M427.8 1494.4h0M440.1 1511.0h0M439.4 1495.5h0M437.6 1482.0h0M438.8 1511.7h0M437.5 1505.8h0M437.3 1476.5h0M445.5 1479.5h0M429.3 1485.1h0M428.2 1502.7h0M429.1 1487.7h0M427.8 1462.2h0M439.5 1492.1h0M438.9 1502.5h0M429.3 1472.1h0M439.6 1480.1h0M434.1 1471.3h0M443.3 1506.9h0M439.9 1500.3h0M429.3 1488.4h0M431.4 1472.0h0M440.3 1482.5h0M443.4 1503.5h0M443.3 1497.6h0M431.9 1499.6h0M433.4 1474.8h0M438.2 1471.5h0M446.7 1473.5h0M426.0 1470.5h0M437.9 1502.1h0M430.4 1500.1h0M428.6 1494.6h0M440.2 1513.8h0M429.1 1500.6h0M440.0 1464.9h0M428.8 1492.0h0M445.8 1473.9h0M426.3 1486.8h0M425.7 1502.7h0M443.3 1507.2h0M436.6 1497.9h0M430.0 1495.8h0M430.4 1501.6h0M428.0 1489.5h0M428.9 1475.4h0M437.1 1486.6h0M433.7 1515.6h0M443.2 1497.6h0M443.8 1494.5h0M436.2 1491.6h0M428.8 1480.3h0M430.0 1445.7h0M437.9 1464.5h0M438.9 1472.0h0M446.7 1500.4h0M431.9 1459.1h0M428.8 1498.4h0M439.3 1492.8h0M444.6 1486.9h0M442.9 1461.6h0M431.7 1477.5h0M435.3 1480.7h0M428.5 1476.4h0M428.6 1479.0h0M427.9 1491.0h0M428.9 1493.3h0M439.2 1493.8h0M440.7 1478.1h0M436.7 1490.4h0M443.3 1495.1h0M429.7 1493.4h0M439.0 1476.4h0M444.1 1471.4h0M428.1 1493.9h0M433.1 1487.0h0M429.6 1496.3h0M428.9 1493.3h0M428.9 1482.4h0M443.6 1491.8h0M438.0 1470.7h0M435.5 1479.6h0M439.1 1489.8h0M434.1 1484.6h0M443.0 1488.2h0M428.1 1487.7h0M443.9 1503.4h0M427.0 1476.9h0M439.8 1489.4h0M445.8 1497.1h0M431.9 1498.0h0M440.3 1499.2h0M444.1 1480.5h0M439.6 1488.0h0M440.3 1474.0h0M443.0 1480.2h0M444.6 1475.6h0M428.4 1504.3h0M432.1 1492.2h0M444.1 1482.4h0M439.9 1498.8h0M431.9 1460.6h0M443.5 1482.6h0M443.2 1481.1h0M432.6 1501.9h0M438.1 1496.1h0M444.1 1499.5h0M439.9 1476.4h0M427.8 1479.7h0M437.8 1490.4h0M428.2 1499.7h0M432.7 1486.7h0M446.7 1505.6h0M429.1 1485.3h0M440.1 1490.5h0M443.9 1509.1h0M432.2 1495.5h0M439.1 1489.2h0M439.0 1462.9h0M428.6 1482.8h0M428.1 1468.3h0M443.1 1501.0h0M443.8 1465.9h0M428.0 1478.1h0M444.0 1481.3h0M431.2 1488.0h0M444.1 1508.4h0M425.3 1494.1h0M440.2 1475.7h0M428.2 1449.6h0M443.1 1485.2h0M442.2 1488.0h0M443.6 1466.0h0M440.9 1504.8h0M437.4 1455.3h0M443.1 1471.2h0M438.0 1500.6h0M428.1 1511.9h0M439.9 1494.1h0M428.7 1477.9h0M425.9 1489.1h0M442.2 1496.7h0M427.1 1489.6h0M428.0 1482.7h0M437.3 1459.2h0M429.5 1451.3h0M440.3 1494.4h0M428.8 1488.1h0M429.2 1506.2h0M440.9 1496.9h0M427.9 1464.7h0M433.5 1482.3h0M431.6 1502.7h0M431.9 1457.8h0M440.3 1472.7h0M446.0 1465.2h0M438.3 1475.6h0M437.4 1508.2h0M432.4 1502.2h0M431.4 1459.8h0M443.1 1488.8h0M439.3 1514.3h0M439.2 1467.1h0M427.3 1455.8h0M425.9 1495.9h0M457.2 1462.6h0M456.2 1512.1h0M456.7 1495.8h0M458.3 1491.4h0M456.3 1489.3h0M457.2 1480.4h0M456.9 1498.0h0M458.1 1487.8h0M453.9 1459.1h0M456.3 1486.3h0M454.5 1466.1h0M456.4 1512.1h0M456.4 1470.2h0M456.7 1481.4h0M456.5 1494.5h0M458.3 1488.8h0M456.9 1510.0h0M458.2 1522.6h0M455.8 1502.2h0M458.4 1491.1h0M456.7 1503.9h0M455.1 1510.4h0M458.8 1517.4h0M458.2 1490.9h0M456.4 1514.2h0M462.7 1459.7h0M459.0 1487.0h0M459.0 1481.9h0M463.5 1460.6h0M459.8 1478.1h0M462.5 1491.4h0M459.6 1417.9h0M465.6 1484.9h0M460.3 1431.8h0M459.1 1472.4h0M462.9 1459.9h0M459.6 1479.5h0M466.3 1456.2h0M459.7 1481.4h0M466.1 1479.3h0M459.7 1479.5h0M460.1 1466.7h0M462.8 1467.7h0M466.2 1524.9h0M467.3 1509.0h0M459.7 1481.9h0M460.2 1496.5h0M458.9 1452.5h0M463.7 1482.4h0M462.0 1508.6h0M467.0 1461.3h0M463.2 1500.2h0M458.5 1491.5h0M459.1 1489.1h0M459.9 1511.3h0M464.6 1477.9h0M459.2 1449.4h0M464.7 1468.9h0M458.8 1487.4h0M459.3 1454.3h0M459.7 1496.4h0M459.6 1478.9h0M459.8 1492.4h0M459.0 1463.4h0M459.0 1481.3h0M459.4 1498.3h0M459.4 1470.8h0M463.4 1464.6h0M463.1 1481.7h0M459.8 1461.4h0M459.4 1462.2h0M459.5 1496.4h0M459.4 1495.6h0M467.1 1442.1h0M459.3 1463.0h0M466.4 1470.7h0M461.3 1499.0h0M459.0 1489.2h0M460.7 1474.9h0M459.8 1498.0h0M465.8 1500.4h0M458.9 1481.4h0M460.1 1468.8h0M458.7 1502.2h0M459.1 1495.6h0M459.3 1480.2h0M460.2 1447.8h0M459.7 1440.1h0M463.8 1524.1h0M464.7 1405.3h0M460.9 1495.7h0M459.0 1478.9h0M463.4 1496.1h0M459.6 1440.8h0M459.3 1487.1h0M463.0 1485.1h0M459.1 1478.0h0M458.8 1470.1h0M459.4 1458.5h0M459.1 1523.6h0M459.4 1501.1h0M463.4 1481.4h0M459.5 1484.1h0M460.2 1505.4h0M464.8 1470.7h0M459.1 1409.9h0M458.8 1468.8h0M462.4 1492.6h0M462.3 1495.1h0M462.6 1485.3h0M460.0 1453.2h0M458.8 1510.0h0M466.1 1460.1h0M462.7 1471.7h0M463.3 1502.4h0M488.6 1458.6h0M491.9 1500.6h0M492.5 1445.8h0M488.4 1475.9h0M491.4 1497.2h0M491.9 1486.1h0M487.1 1428.1h0M487.6 1509.4h0M491.9 1473.1h0M495.8 1470.1h0M488.8 1514.6h0M489.4 1491.4h0M491.0 1487.9h0M488.5 1505.1h0M488.5 1480.4h0M488.2 1485.7h0M490.9 1507.8h0M491.4 1490.2h0M486.8 1481.6h0M489.0 1482.0h0M496.7 1481.7h0M494.4 1494.7h0M487.9 1478.3h0M491.6 1479.1h0M486.1 1507.8h0M487.3 1485.0h0M495.9 1508.2h0M491.6 1496.9h0M491.7 1477.8h0M488.4 1479.2h0M486.6 1512.7h0M488.9 1443.4h0M490.1 1507.3h0M493.0 1478.0h0M491.2 1512.1h0M491.2 1483.1h0M486.5 1497.6h0M491.5 1498.2h0M491.5 1496.1h0M495.9 1476.5h0M488.7 1461.9h0M488.0 1476.3h0M487.9 1478.3h0M493.5 1472.3h0M488.5 1488.2h0M492.0 1483.3h0M487.8 1501.4h0M487.8 1489.6h0M487.3 1502.1h0M488.1 1501.9h0M489.1 1507.1h0M488.8 1501.8h0M492.6 1478.6h0M492.0 1485.4h0M492.0 1469.1h0M487.0 1505.5h0M486.4 1462.7h0M486.1 1454.8h0M492.0 1511.5h0M491.1 1509.7h0M488.8 1459.0h0M488.1 1480.1h0M487.9 1466.5h0M491.1 1495.8h0M491.9 1469.1h0M491.7 1499.3h0M488.7 1490.8h0M487.8 1499.8h0M489.4 1491.3h0M488.8 1451.4h0M494.5 1456.9h0M487.9 1479.3h0M489.1 1476.7h0M492.3 1476.1h0M491.5 1503.5h0M487.1 1471.5h0M496.0 1493.8h0M489.1 1496.3h0M493.2 1508.6h0M486.6 1504.4h0M495.2 1488.5h0M489.3 1467.5h0M491.5 1482.9h0M491.5 1492.6h0M488.5 1495.6h0M495.9 1501.3h0M489.0 1496.0h0M488.8 1488.8h0M494.4 1497.0h0M486.6 1476.4h0M585.7 1498.9h0M586.4 1472.1h0M590.2 1508.6h0M589.4 1469.4h0M589.4 1499.4h0M603.0 1490.4h0M581.5 1504.0h0M598.0 1491.6h0M589.2 1463.5h0M589.1 1500.2h0M581.3 1473.9h0M581.7 1489.7h0M603.0 1494.3h0M588.5 1496.2h0M579.7 1465.7h0M603.2 1493.7h0M591.7 1488.4h0M579.4 1482.4h0M600.0 1522.4h0M597.0 1494.8h0M582.9 1496.3h0M590.3 1491.0h0M601.9 1427.0h0M589.3 1455.7h0M591.0 1461.8h0M588.7 1468.1h0M603.8 1490.9h0M603.4 1483.1h0M597.0 1499.8h0M598.0 1504.6h0M597.4 1500.3h0M603.7 1490.0h0M587.7 1500.2h0M588.5 1480.1h0M589.6 1489.1h0M603.6 1431.6h0M598.1 1495.6h0M597.1 1512.0h0M595.6 1493.2h0M592.7 1496.1h0M603.8 1498.5h0M590.1 1511.7h0M596.5 1502.5h0M603.9 1474.7h0M590.9 1462.9h0M597.4 1481.4h0M603.4 1481.7h0M591.2 1481.9h0M593.9 1433.7h0M588.9 1483.8h0M589.8 1513.4h0M588.4 1518.1h0M589.0 1478.5h0M600.2 1497.3h0M579.6 1511.0h0M597.5 1501.4h0M592.9 1496.4h0M589.8 1464.4h0M596.0 1462.6h0M582.4 1482.7h0M601.8 1485.7h0M583.3 1480.9h0M597.8 1435.6h0M601.7 1444.3h0M579.3 1492.6h0M603.4 1508.2h0M580.8 1469.4h0M582.8 1493.8h0M597.2 1495.1h0M598.2 1479.2h0M589.0 1490.6h0M593.2 1487.8h0M600.3 1502.0h0M588.4 1509.4h0M596.3 1498.1h0M603.3 1499.4h0M603.8 1428.1h0M589.6 1512.3h0M589.9 1484.0h0M589.3 1507.0h0M586.1 1500.4h0M604.0 1471.7h0M583.1 1461.5h0M593.2 1480.6h0M604.7 1489.9h0M589.5 1496.6h0M587.2 1474.1h0M595.8 1459.6h0M590.2 1476.2h0M603.2 1500.6h0M603.2 1507.2h0M597.5 1490.5h0M593.5 1487.5h0M597.2 1505.6h0M588.3 1481.2h0M580.7 1504.4h0M580.7 1467.3h0M601.3 1499.2h0M589.5 1481.4h0M604.8 1502.8h0M592.4 1485.1h0M598.1 1503.8h0M593.8 1491.9h0M603.2 1487.1h0M585.6 1487.4h0M578.9 1497.9h0M592.6 1483.4h0M579.1 1466.3h0M589.7 1507.1h0M588.6 1463.6h0M589.7 1492.0h0M590.1 1494.5h0M603.7 1476.9h0M589.8 1448.6h0M596.7 1473.7h0M590.3 1421.1h0M604.8 1490.7h0M590.1 1473.2h0M578.9 1497.7h0M585.7 1495.8h0M608.8 1504.1h0M608.7 1472.0h0M611.9 1478.1h0M610.1 1496.4h0M608.5 1485.3h0M608.6 1462.2h0M608.6 1506.5h0M608.5 1482.0h0M608.1 1491.1h0M609.6 1478.7h0M607.9 1488.6h0M607.7 1478.9h0M611.2 1480.3h0M609.6 1505.0h0M608.7 1457.5h0M823.0 1313.2h0M830.6 1348.1h0M822.1 1297.0h0M825.2 1340.2h0M820.3 1288.4h0M822.2 1256.3h0M820.5 1296.2h0M821.1 1309.0h0M821.3 1340.0h0M822.1 1278.7h0M825.4 1336.9h0M824.7 1362.7h0M830.4 1329.0h0M827.1 1301.7h0M820.4 1247.8h0M821.2 1271.5h0M824.5 1285.0h0M826.8 1316.2h0M820.2 1282.3h0M827.5 1298.3h0M820.5 1346.5h0M820.4 1315.0h0M820.3 1300.6h0M827.5 1340.5h0M822.2 1289.3h0M825.3 1310.9h0M822.8 1332.8h0M825.4 1325.8h0M825.8 1357.0h0M825.5 1314.6h0M825.3 1317.0h0M821.0 1311.2h0M824.5 1356.2h0M822.3 1317.3h0M820.8 1369.8h0M825.9 1313.2h0M825.3 1313.0h0M826.4 1302.5h0M821.2 1324.3h0M824.9 1297.0h0M820.1 1260.7h0M822.9 1336.8h0M825.6 1350.2h0M827.0 1378.2h0M820.4 1262.1h0M821.2 1325.7h0M827.9 1348.8h0M820.4 1308.3h0M825.8 1352.6h0M822.6 1318.9h0M825.7 1253.8h0M829.0 1266.7h0M825.3 1349.0h0M826.1 1334.0h0M821.9 1328.1h0M830.0 1341.3h0M824.9 1293.0h0M820.3 1281.9h0M825.5 1287.5h0M825.8 1362.1h0M827.0 1290.8h0M821.9 1352.9h0M822.1 1331.0h0M826.2 1354.5h0M820.2 1301.3h0M826.4 1332.5h0M822.1 1379.8h0M822.3 1301.3h0M825.5 1355.8h0M829.7 1288.3h0" stroke="#7b56a6" stroke-width="2.1" stroke-linecap="round" fill="none" opacity="0.9"/>
<line x1="213" y1="1409" x2="248" y2="1409" stroke="#e28a68" stroke-width="2"/>
<line x1="248" y1="1397" x2="263.5" y2="1397" stroke="#e28a68" stroke-width="2"/>
<line x1="263.5" y1="1482" x2="296.5" y2="1482" stroke="#e28a68" stroke-width="2"/>
<line x1="296.5" y1="1481" x2="312" y2="1481" stroke="#e28a68" stroke-width="2"/>
<line x1="326" y1="1426" x2="340" y2="1426" stroke="#e28a68" stroke-width="2"/>
<line x1="337.4" y1="1476.7" x2="449" y2="1476.7" stroke="#e28a68" stroke-width="2"/>
<line x1="449" y1="1487" x2="495" y2="1487" stroke="#e28a68" stroke-width="2"/>
<line x1="495" y1="1476" x2="580.8" y2="1476" stroke="#e28a68" stroke-width="2"/>
<line x1="580.8" y1="1483" x2="618" y2="1483" stroke="#e28a68" stroke-width="2"/>
<line x1="623.5" y1="1403" x2="822" y2="1403" stroke="#e28a68" stroke-width="2"/>
<line x1="830" y1="1408.5" x2="1017" y2="1408.5" stroke="#e28a68" stroke-width="2"/>
<rect x="159.6" y="1081.5" width="905.1999999999999" height="497.70000000000005" fill="none" stroke="#444" stroke-width="1.6"/>
<line x1="159.6" y1="1579.2" x2="163.6" y2="1579.2" stroke="#444" stroke-width="1.2"/>
<line x1="1060.8" y1="1579.2" x2="1064.8" y2="1579.2" stroke="#444" stroke-width="1.2"/>
<line x1="159.6" y1="1496.2" x2="163.6" y2="1496.2" stroke="#444" stroke-width="1.2"/>
<line x1="1060.8" y1="1496.2" x2="1064.8" y2="1496.2" stroke="#444" stroke-width="1.2"/>
<line x1="159.6" y1="1413.3" x2="163.6" y2="1413.3" stroke="#444" stroke-width="1.2"/>
<line x1="1060.8" y1="1413.3" x2="1064.8" y2="1413.3" stroke="#444" stroke-width="1.2"/>
<line x1="159.6" y1="1330.3" x2="163.6" y2="1330.3" stroke="#444" stroke-width="1.2"/>
<line x1="1060.8" y1="1330.3" x2="1064.8" y2="1330.3" stroke="#444" stroke-width="1.2"/>
<line x1="159.6" y1="1247.4" x2="163.6" y2="1247.4" stroke="#444" stroke-width="1.2"/>
<line x1="1060.8" y1="1247.4" x2="1064.8" y2="1247.4" stroke="#444" stroke-width="1.2"/>
<line x1="159.6" y1="1164.5" x2="163.6" y2="1164.5" stroke="#444" stroke-width="1.2"/>
<line x1="1060.8" y1="1164.5" x2="1064.8" y2="1164.5" stroke="#444" stroke-width="1.2"/>
<line x1="159.6" y1="1081.5" x2="163.6" y2="1081.5" stroke="#444" stroke-width="1.2"/>
<line x1="1060.8" y1="1081.5" x2="1064.8" y2="1081.5" stroke="#444" stroke-width="1.2"/>
<line x1="159.6" y1="1579.2" x2="159.6" y2="1575.2" stroke="#444" stroke-width="1.2"/>
<line x1="159.6" y1="1081.5" x2="159.6" y2="1085.5" stroke="#444" stroke-width="1.2"/>
<line x1="310.5" y1="1579.2" x2="310.5" y2="1575.2" stroke="#444" stroke-width="1.2"/>
<line x1="310.5" y1="1081.5" x2="310.5" y2="1085.5" stroke="#444" stroke-width="1.2"/>
<line x1="461.3" y1="1579.2" x2="461.3" y2="1575.2" stroke="#444" stroke-width="1.2"/>
<line x1="461.3" y1="1081.5" x2="461.3" y2="1085.5" stroke="#444" stroke-width="1.2"/>
<line x1="612.2" y1="1579.2" x2="612.2" y2="1575.2" stroke="#444" stroke-width="1.2"/>
<line x1="612.2" y1="1081.5" x2="612.2" y2="1085.5" stroke="#444" stroke-width="1.2"/>
<line x1="763.1" y1="1579.2" x2="763.1" y2="1575.2" stroke="#444" stroke-width="1.2"/>
<line x1="763.1" y1="1081.5" x2="763.1" y2="1085.5" stroke="#444" stroke-width="1.2"/>
<line x1="913.9" y1="1579.2" x2="913.9" y2="1575.2" stroke="#444" stroke-width="1.2"/>
<line x1="913.9" y1="1081.5" x2="913.9" y2="1085.5" stroke="#444" stroke-width="1.2"/>
<line x1="1064.8" y1="1579.2" x2="1064.8" y2="1575.2" stroke="#444" stroke-width="1.2"/>
<line x1="1064.8" y1="1081.5" x2="1064.8" y2="1085.5" stroke="#444" stroke-width="1.2"/>
<line x1="602.5" y1="1537.8" x2="486" y2="1545.2" stroke="#000" stroke-width="3.6"/>
<polygon points="472.6,1546.4 491.5,1536.6 492.5,1554.6" fill="#000"/>
</svg>
<span style="left:153.07px;top:24.83px;font-size:31px;font-weight:normal;font-style:normal;color:#000;transform:scale(0.9250,1.0503);">STAT1</span>
<span style="left:82.47px;top:69.28px;font-size:31px;font-weight:normal;font-style:normal;color:#000;transform:scale(1.0000,1.0503);">STAT1_cna</span>
<span style="left:162.14px;top:113.73px;font-size:31px;font-weight:normal;font-style:normal;color:#000;transform:scale(1.0000,1.0503);">LEPR</span>
<span style="left:93.32px;top:158.18px;font-size:31px;font-weight:normal;font-style:normal;color:#000;transform:scale(1.0000,1.0503);">LEPR_cna</span>
<span style="left:168.96px;top:202.63px;font-size:31px;font-weight:normal;font-style:normal;color:#000;transform:scale(1.0000,1.0503);">JAK2</span>
<span style="left:100.14px;top:247.08px;font-size:31px;font-weight:normal;font-style:normal;color:#000;transform:scale(1.0000,1.0503);">JAK2_cna</span>
<span style="left:172.37px;top:291.53px;font-size:31px;font-weight:normal;font-style:normal;color:#000;transform:scale(1.0000,1.0503);">IFNE</span>
<span style="left:103.55px;top:335.98px;font-size:31px;font-weight:normal;font-style:normal;color:#000;transform:scale(1.0000,1.0503);">IFNE_cna</span>
<span style="left:155.01px;top:380.43px;font-size:31px;font-weight:normal;font-style:normal;color:#000;transform:scale(1.0000,1.0503);">IFNB1</span>
<span style="left:86.50px;top:424.88px;font-size:31px;font-weight:normal;font-style:normal;color:#000;transform:scale(1.0000,1.0503);">IFNB1_cna</span>
<span style="left:137.34px;top:469.33px;font-size:31px;font-weight:normal;font-style:normal;color:#000;transform:scale(1.0000,1.0503);">IFNA14</span>
<span style="left:69.14px;top:513.78px;font-size:31px;font-weight:normal;font-style:normal;color:#000;transform:scale(1.0000,1.0503);">IFNA14_cna</span>
<span style="left:150.05px;top:558.23px;font-size:31px;font-weight:normal;font-style:normal;color:#000;transform:scale(1.0000,1.0503);">IFIT1B</span>
<span style="left:81.23px;top:602.68px;font-size:31px;font-weight:normal;font-style:normal;color:#000;transform:scale(1.0000,1.0503);">IFIT1B_cna</span>
<span style="left:607.51px;top:86.73px;font-size:31px;font-weight:normal;font-style:normal;color:#000;transform:scale(1.0445,1.0503);">B2M</span>
<span style="left:538.16px;top:140.06px;font-size:31px;font-weight:normal;font-style:normal;color:#000;transform:scale(1.0262,1.0503);">B2M_cna</span>
<span style="left:599.60px;top:193.39px;font-size:31px;font-weight:normal;font-style:normal;color:#000;transform:scale(0.9650,1.0503);">TAP1</span>
<span style="left:532.09px;top:246.72px;font-size:31px;font-weight:normal;font-style:normal;color:#000;transform:scale(0.9861,1.0503);">TAP1_cna</span>
<span style="left:598.88px;top:300.05px;font-size:31px;font-weight:normal;font-style:normal;color:#000;transform:scale(1.0005,1.0503);">TAP2</span>
<span style="left:532.09px;top:353.38px;font-size:31px;font-weight:normal;font-style:normal;color:#000;transform:scale(0.9861,1.0503);">TAP2_cna</span>
<span style="left:5.26px;top:4.70px;font-size:36px;font-weight:normal;font-style:normal;color:#000;">a</span>
<span style="left:504.24px;top:4.70px;font-size:36px;font-weight:normal;font-style:normal;color:#000;">b</span>
<span style="left:6.16px;top:1064.20px;font-size:36px;font-weight:normal;font-style:normal;color:#000;">c</span>
<span style="left:227.44px;top:726.81px;font-size:30px;font-weight:bold;font-style:normal;color:#000;transform:scale(1.0741,1.0465);">Mutation type</span>
<span style="left:289.84px;top:786.52px;font-size:31.5px;font-weight:normal;font-style:normal;color:#000;transform:scale(1.0176,1.0000);">Nonsense</span>
<span style="left:289.42px;top:844.33px;font-size:31.5px;font-weight:normal;font-style:normal;color:#000;transform:scale(1.0236,1.0000);">Missense</span>
<span style="left:290.38px;top:902.23px;font-size:31.5px;font-weight:normal;font-style:normal;color:#000;transform:scale(1.0257,1.0000);">Splice site</span>
<span style="left:289.41px;top:959.93px;font-size:31.5px;font-weight:normal;font-style:normal;color:#000;transform:scale(1.0284,1.0000);">Frameshift indel</span>
<span style="left:609.22px;top:726.31px;font-size:30px;font-weight:bold;font-style:normal;color:#000;transform:scale(1.0695,1.0271);">Copy number alteration type</span>
<span style="left:658.83px;top:784.52px;font-size:31.5px;font-weight:normal;font-style:normal;color:#000;transform:scale(1.0187,1.0000);">Heterozygous deletion</span>
<span style="left:658.83px;top:842.12px;font-size:31.5px;font-weight:normal;font-style:normal;color:#000;transform:scale(1.0211,1.0000);">Homozygous deletion</span>
<span style="left:658.22px;top:888.02px;font-size:31.5px;font-weight:normal;font-style:normal;color:#000;transform:scale(1.0230,1.0000);">Heterozygous deletion with</span>
<span style="left:659.52px;top:925.83px;font-size:31.5px;font-weight:normal;font-style:normal;color:#000;transform:scale(1.0196,1.0000);">amplification of alternate allele</span>
<span style="left:1150.45px;top:689.92px;font-size:29.5px;font-weight:bold;font-style:normal;color:#000;transform:scale(1.0877,1.0000);">Response to immune</span>
<span style="left:1151.43px;top:728.62px;font-size:29.5px;font-weight:bold;font-style:normal;color:#000;transform:scale(1.0783,1.0000);">checkpoint therapy</span>
<span style="left:1213.18px;top:792.95px;font-size:31px;font-weight:normal;font-style:normal;color:#000;transform:scale(1.0459,1.0000);">CR or PR</span>
<span style="left:1213.25px;top:850.05px;font-size:31px;font-weight:normal;font-style:normal;color:#000;">SD</span>
<span style="left:1212.32px;top:908.05px;font-size:31px;font-weight:normal;font-style:normal;color:#000;">PD</span>
<span style="left:135.77px;top:1572.03px;font-size:14.2px;font-weight:normal;font-style:normal;color:#222;transform:scale(1.0500,1.0000);">0.0</span>
<span style="left:135.77px;top:1489.08px;font-size:14.2px;font-weight:normal;font-style:normal;color:#222;transform:scale(1.0500,1.0000);">0.5</span>
<span style="left:135.77px;top:1406.13px;font-size:14.2px;font-weight:normal;font-style:normal;color:#222;transform:scale(1.0500,1.0000);">1.0</span>
<span style="left:135.77px;top:1323.18px;font-size:14.2px;font-weight:normal;font-style:normal;color:#222;transform:scale(1.0500,1.0000);">1.5</span>
<span style="left:135.77px;top:1240.23px;font-size:14.2px;font-weight:normal;font-style:normal;color:#222;transform:scale(1.0500,1.0000);">2.0</span>
<span style="left:135.77px;top:1157.28px;font-size:14.2px;font-weight:normal;font-style:normal;color:#222;transform:scale(1.0500,1.0000);">2.5</span>
<span style="left:135.77px;top:1074.33px;font-size:14.2px;font-weight:normal;font-style:normal;color:#222;transform:scale(1.0500,1.0000);">3.0</span>
<span style="left:141.14px;top:1581.93px;font-size:14.2px;font-weight:normal;font-style:normal;color:#222;transform:scale(1.0400,1.0000);">0.750</span>
<span style="left:292.01px;top:1581.93px;font-size:14.2px;font-weight:normal;font-style:normal;color:#222;transform:scale(1.0400,1.0000);">0.755</span>
<span style="left:442.87px;top:1581.93px;font-size:14.2px;font-weight:normal;font-style:normal;color:#222;transform:scale(1.0400,1.0000);">0.760</span>
<span style="left:593.74px;top:1581.93px;font-size:14.2px;font-weight:normal;font-style:normal;color:#222;transform:scale(1.0400,1.0000);">0.765</span>
<span style="left:744.61px;top:1581.93px;font-size:14.2px;font-weight:normal;font-style:normal;color:#222;transform:scale(1.0400,1.0000);">0.770</span>
<span style="left:895.47px;top:1581.93px;font-size:14.2px;font-weight:normal;font-style:normal;color:#222;transform:scale(1.0400,1.0000);">0.775</span>
<span style="left:1046.34px;top:1581.93px;font-size:14.2px;font-weight:normal;font-style:normal;color:#222;transform:scale(1.0400,1.0000);">0.780</span>
<span style="left:559.08px;top:1600.18px;font-size:13.2px;font-weight:normal;font-style:normal;color:#222;transform:scale(1.0928,1.0000);">Chromosome 15</span>
<span style="left:169.99px;top:1094.09px;font-size:37.6px;font-weight:normal;font-style:normal;color:#000;transform:scale(0.9997,1.0360);">DFCI_MM-2</span>
<span style="left:623.88px;top:1521.00px;font-size:36px;font-weight:normal;font-style:italic;color:#000;transform:scale(1.0410,1.0000);">B2M</span>
<span style="left:73.75px;top:1323.70px;font-size:13.2px;color:#222;transform-origin:48.25px 6.60px;transform:rotate(-90deg) scaleX(1.0837)">Total Copy Ratio</span>
</div></body></html>
